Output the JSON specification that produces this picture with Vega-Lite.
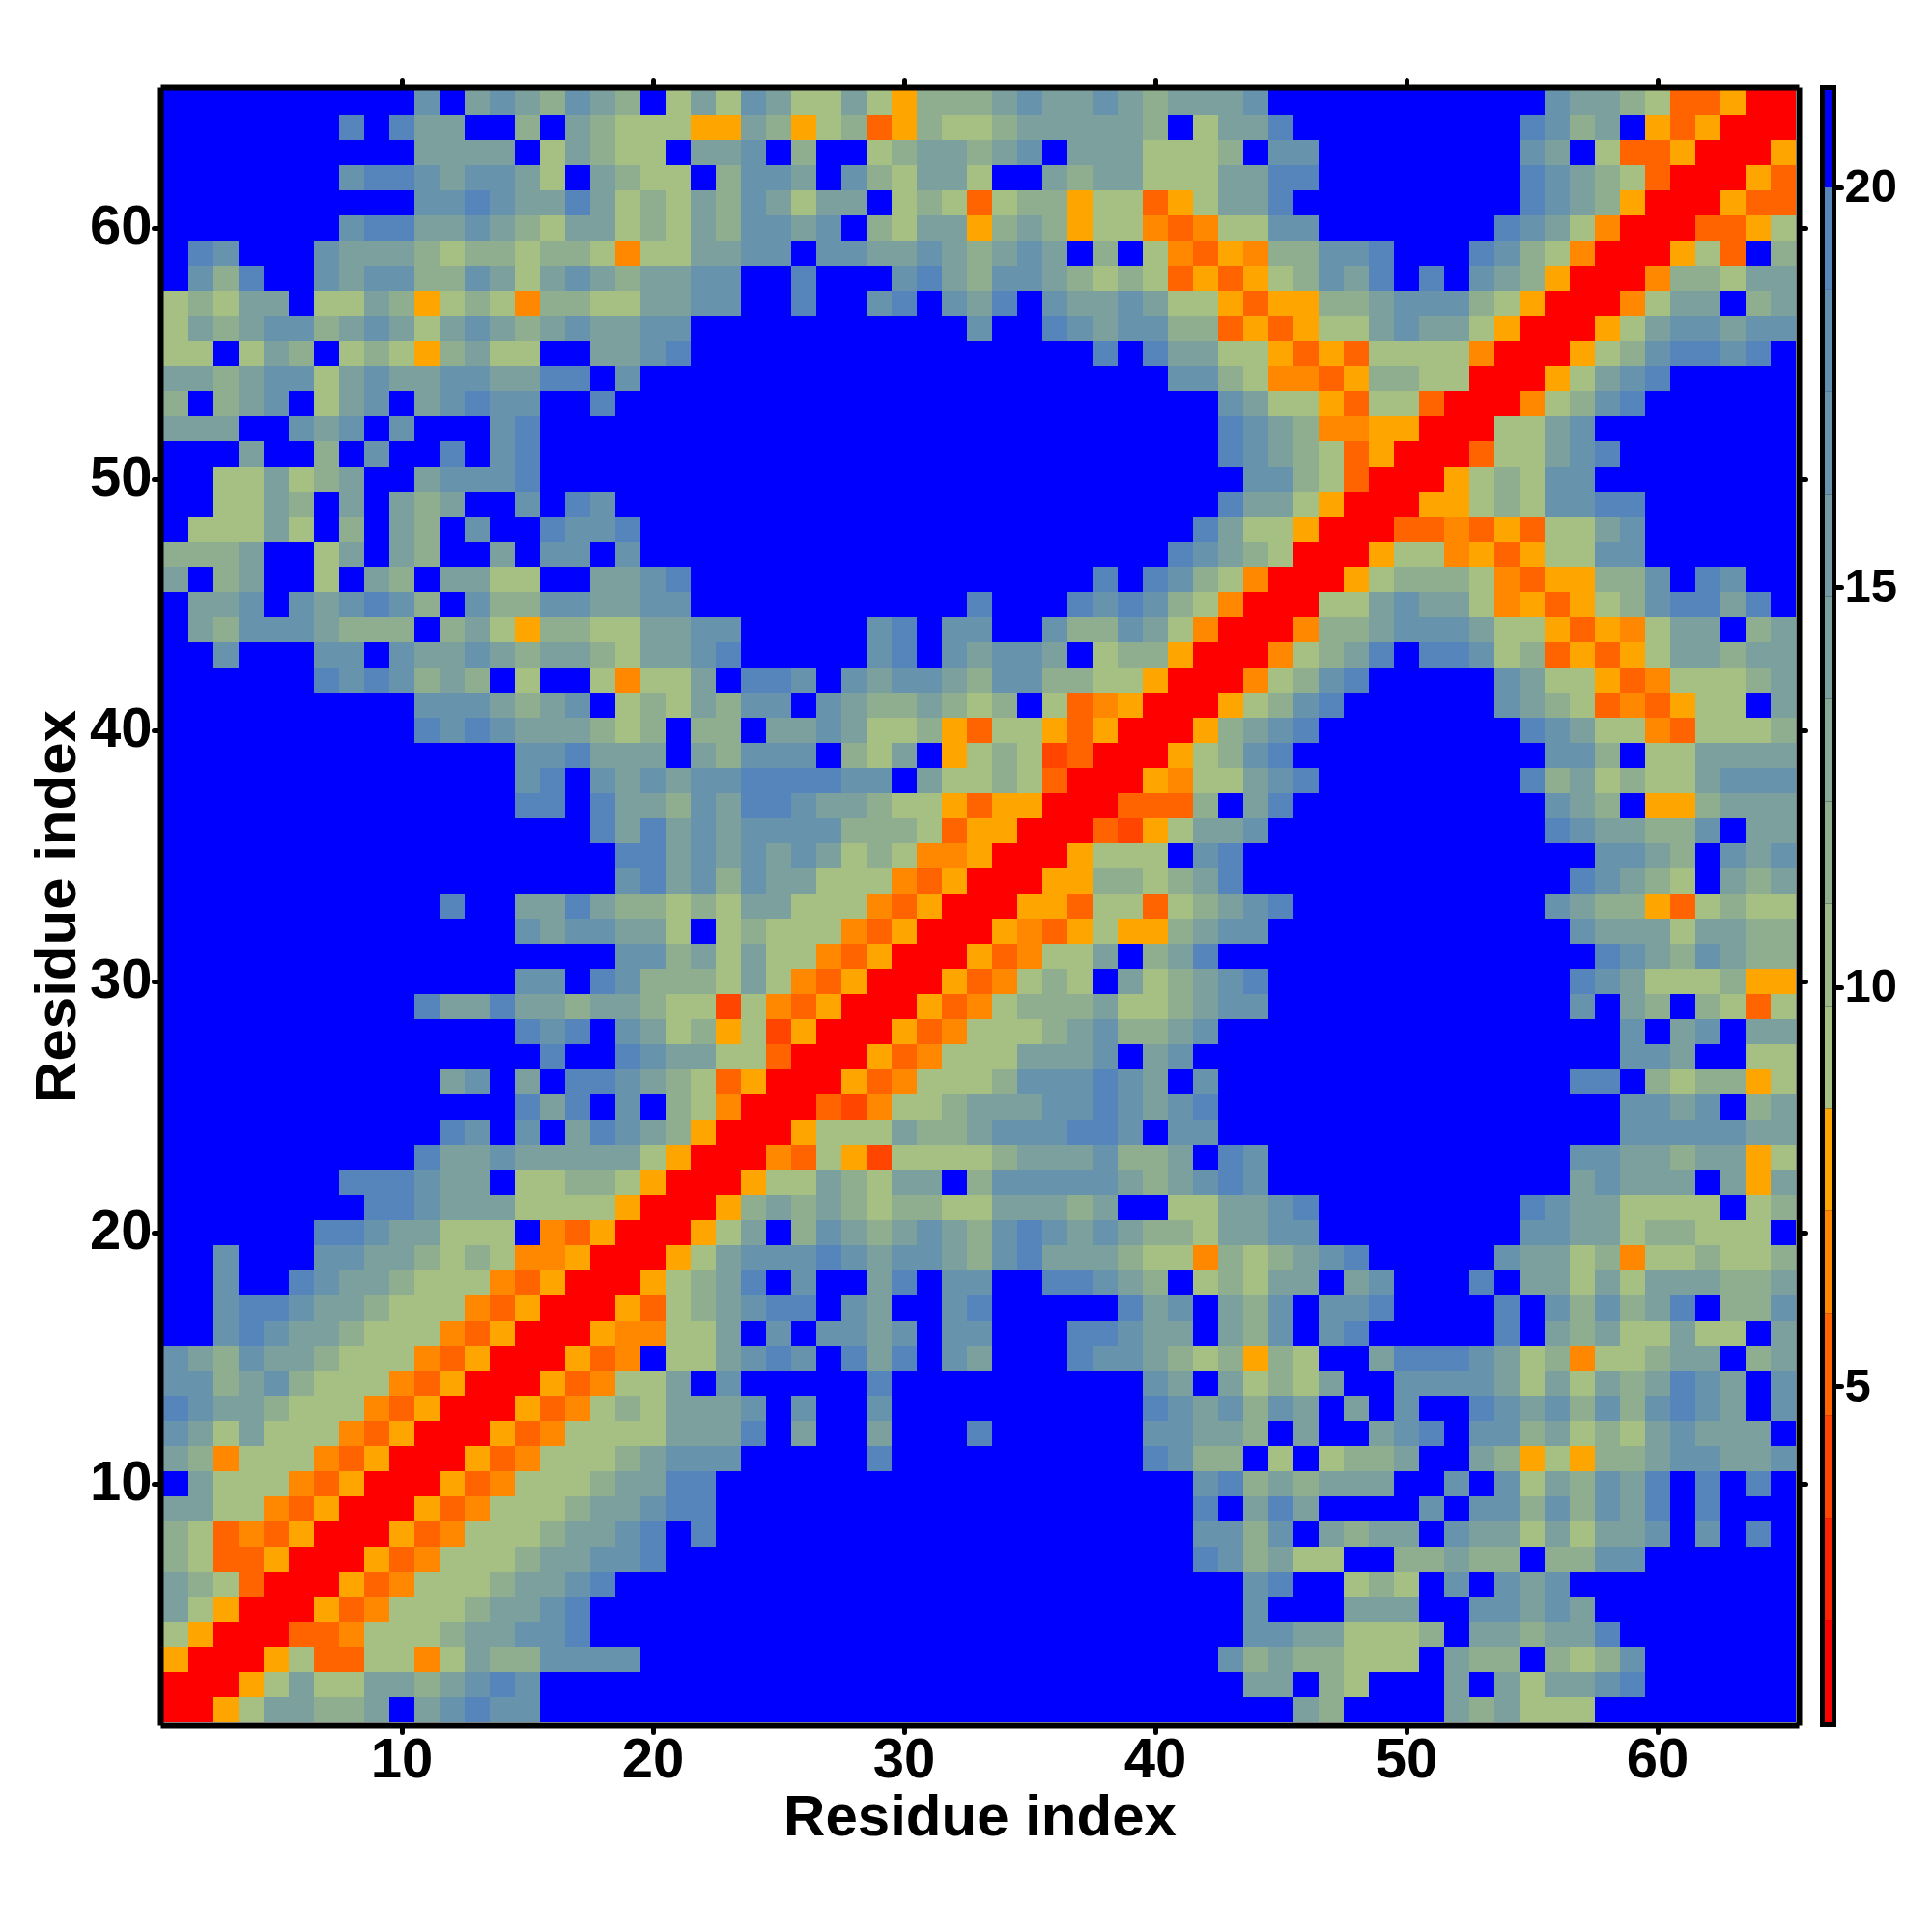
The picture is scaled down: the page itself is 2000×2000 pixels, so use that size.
{"$schema":"https://vega.github.io/schema/vega-lite/v6.json","background":"white","padding":{"left":29,"top":80,"right":10,"bottom":10},"bounds":"flush","spacing":30,"config":{"view":{"stroke":null},"font":"Liberation Sans","axis":{"grid":false,"domainColor":"#000000","domainWidth":6,"domainCap":"square","tickColor":"#000000","tickCap":"round","tickWidth":5,"labelFont":"Liberation Sans","labelFontWeight":"bold","labelColor":"#000000","titleFont":"Liberation Sans","titleFontWeight":"bold","titleColor":"#000000"}},"hconcat":[{"width":1690,"height":1690,"view":{"fill":"#0000ff","stroke":null},"layer":[{"data":{"values":[
{"x":11,"y":65,"d":17},{"x":13,"y":65,"d":14},{"x":14,"y":65,"d":17},{"x":15,"y":65,"d":14},{"x":16,"y":65,"d":12},{"x":17,"y":65,"d":17},{"x":18,"y":65,"d":14},{"x":19,"y":65,"d":12},{"x":21,"y":65,"d":9},{"x":22,"y":65,"d":14},{"x":23,"y":65,"d":9},{"x":24,"y":65,"d":17},{"x":25,"y":65,"d":14},{"x":26,"y":65,"d":9},{"x":27,"y":65,"d":9},{"x":28,"y":65,"d":14},{"x":29,"y":65,"d":9},{"x":30,"y":65,"d":8},{"x":31,"y":65,"d":12},{"x":32,"y":65,"d":12},{"x":33,"y":65,"d":12},{"x":34,"y":65,"d":14},{"x":35,"y":65,"d":17},{"x":36,"y":65,"d":14},{"x":37,"y":65,"d":14},{"x":38,"y":65,"d":17},{"x":39,"y":65,"d":14},{"x":40,"y":65,"d":12},{"x":41,"y":65,"d":14},{"x":42,"y":65,"d":14},{"x":43,"y":65,"d":14},{"x":44,"y":65,"d":17},{"x":56,"y":65,"d":17},{"x":57,"y":65,"d":14},{"x":58,"y":65,"d":14},{"x":59,"y":65,"d":12},{"x":60,"y":65,"d":9},{"x":61,"y":65,"d":5},{"x":62,"y":65,"d":5},{"x":63,"y":65,"d":8},{"x":64,"y":65,"d":1},{"x":65,"y":65,"d":1},
{"x":8,"y":64,"d":19},{"x":10,"y":64,"d":19},{"x":11,"y":64,"d":14},{"x":12,"y":64,"d":14},{"x":15,"y":64,"d":12},{"x":17,"y":64,"d":14},{"x":18,"y":64,"d":12},{"x":19,"y":64,"d":9},{"x":20,"y":64,"d":9},{"x":21,"y":64,"d":9},{"x":22,"y":64,"d":8},{"x":23,"y":64,"d":8},{"x":24,"y":64,"d":14},{"x":25,"y":64,"d":12},{"x":26,"y":64,"d":8},{"x":27,"y":64,"d":9},{"x":28,"y":64,"d":12},{"x":29,"y":64,"d":5},{"x":30,"y":64,"d":8},{"x":31,"y":64,"d":12},{"x":32,"y":64,"d":9},{"x":33,"y":64,"d":9},{"x":34,"y":64,"d":12},{"x":35,"y":64,"d":14},{"x":36,"y":64,"d":14},{"x":37,"y":64,"d":14},{"x":38,"y":64,"d":14},{"x":39,"y":64,"d":14},{"x":40,"y":64,"d":12},{"x":42,"y":64,"d":9},{"x":43,"y":64,"d":14},{"x":44,"y":64,"d":14},{"x":45,"y":64,"d":19},{"x":55,"y":64,"d":19},{"x":56,"y":64,"d":17},{"x":57,"y":64,"d":12},{"x":58,"y":64,"d":14},{"x":60,"y":64,"d":8},{"x":61,"y":64,"d":5},{"x":62,"y":64,"d":8},{"x":63,"y":64,"d":1},{"x":64,"y":64,"d":1},{"x":65,"y":64,"d":1},
{"x":11,"y":63,"d":14},{"x":12,"y":63,"d":14},{"x":13,"y":63,"d":14},{"x":14,"y":63,"d":14},{"x":16,"y":63,"d":9},{"x":17,"y":63,"d":14},{"x":18,"y":63,"d":12},{"x":19,"y":63,"d":9},{"x":20,"y":63,"d":9},{"x":22,"y":63,"d":14},{"x":23,"y":63,"d":14},{"x":24,"y":63,"d":17},{"x":26,"y":63,"d":12},{"x":29,"y":63,"d":9},{"x":30,"y":63,"d":12},{"x":31,"y":63,"d":14},{"x":32,"y":63,"d":14},{"x":33,"y":63,"d":12},{"x":34,"y":63,"d":14},{"x":35,"y":63,"d":17},{"x":37,"y":63,"d":14},{"x":38,"y":63,"d":14},{"x":39,"y":63,"d":14},{"x":40,"y":63,"d":9},{"x":41,"y":63,"d":9},{"x":42,"y":63,"d":9},{"x":43,"y":63,"d":12},{"x":45,"y":63,"d":17},{"x":46,"y":63,"d":17},{"x":55,"y":63,"d":17},{"x":56,"y":63,"d":14},{"x":58,"y":63,"d":9},{"x":59,"y":63,"d":5},{"x":60,"y":63,"d":5},{"x":61,"y":63,"d":8},{"x":62,"y":63,"d":1},{"x":63,"y":63,"d":1},{"x":64,"y":63,"d":1},{"x":65,"y":63,"d":8},
{"x":8,"y":62,"d":17},{"x":9,"y":62,"d":19},{"x":10,"y":62,"d":19},{"x":11,"y":62,"d":17},{"x":12,"y":62,"d":14},{"x":13,"y":62,"d":17},{"x":14,"y":62,"d":17},{"x":15,"y":62,"d":14},{"x":16,"y":62,"d":9},{"x":18,"y":62,"d":14},{"x":19,"y":62,"d":12},{"x":20,"y":62,"d":9},{"x":21,"y":62,"d":9},{"x":23,"y":62,"d":12},{"x":24,"y":62,"d":17},{"x":25,"y":62,"d":17},{"x":26,"y":62,"d":14},{"x":28,"y":62,"d":17},{"x":29,"y":62,"d":12},{"x":30,"y":62,"d":9},{"x":31,"y":62,"d":14},{"x":32,"y":62,"d":14},{"x":33,"y":62,"d":9},{"x":36,"y":62,"d":14},{"x":37,"y":62,"d":12},{"x":38,"y":62,"d":14},{"x":39,"y":62,"d":14},{"x":40,"y":62,"d":9},{"x":41,"y":62,"d":9},{"x":42,"y":62,"d":9},{"x":43,"y":62,"d":14},{"x":44,"y":62,"d":14},{"x":45,"y":62,"d":19},{"x":46,"y":62,"d":19},{"x":55,"y":62,"d":19},{"x":56,"y":62,"d":17},{"x":57,"y":62,"d":14},{"x":58,"y":62,"d":12},{"x":59,"y":62,"d":9},{"x":60,"y":62,"d":5},{"x":61,"y":62,"d":1},{"x":62,"y":62,"d":1},{"x":63,"y":62,"d":1},{"x":64,"y":62,"d":8},{"x":65,"y":62,"d":5},
{"x":11,"y":61,"d":17},{"x":12,"y":61,"d":17},{"x":13,"y":61,"d":19},{"x":14,"y":61,"d":17},{"x":15,"y":61,"d":14},{"x":16,"y":61,"d":14},{"x":17,"y":61,"d":19},{"x":18,"y":61,"d":14},{"x":19,"y":61,"d":9},{"x":20,"y":61,"d":12},{"x":21,"y":61,"d":9},{"x":22,"y":61,"d":14},{"x":23,"y":61,"d":12},{"x":24,"y":61,"d":17},{"x":25,"y":61,"d":14},{"x":26,"y":61,"d":9},{"x":27,"y":61,"d":14},{"x":28,"y":61,"d":14},{"x":30,"y":61,"d":9},{"x":31,"y":61,"d":12},{"x":32,"y":61,"d":9},{"x":33,"y":61,"d":5},{"x":34,"y":61,"d":9},{"x":35,"y":61,"d":12},{"x":36,"y":61,"d":12},{"x":37,"y":61,"d":8},{"x":38,"y":61,"d":9},{"x":39,"y":61,"d":9},{"x":40,"y":61,"d":5},{"x":41,"y":61,"d":8},{"x":42,"y":61,"d":9},{"x":43,"y":61,"d":14},{"x":44,"y":61,"d":14},{"x":45,"y":61,"d":19},{"x":55,"y":61,"d":19},{"x":56,"y":61,"d":17},{"x":57,"y":61,"d":14},{"x":58,"y":61,"d":12},{"x":59,"y":61,"d":8},{"x":60,"y":61,"d":1},{"x":61,"y":61,"d":1},{"x":62,"y":61,"d":1},{"x":63,"y":61,"d":8},{"x":64,"y":61,"d":5},{"x":65,"y":61,"d":5},
{"x":8,"y":60,"d":17},{"x":9,"y":60,"d":19},{"x":10,"y":60,"d":19},{"x":11,"y":60,"d":14},{"x":12,"y":60,"d":14},{"x":13,"y":60,"d":17},{"x":14,"y":60,"d":14},{"x":15,"y":60,"d":12},{"x":16,"y":60,"d":9},{"x":17,"y":60,"d":14},{"x":18,"y":60,"d":14},{"x":19,"y":60,"d":9},{"x":20,"y":60,"d":12},{"x":21,"y":60,"d":9},{"x":22,"y":60,"d":14},{"x":23,"y":60,"d":12},{"x":24,"y":60,"d":17},{"x":25,"y":60,"d":17},{"x":26,"y":60,"d":14},{"x":27,"y":60,"d":17},{"x":29,"y":60,"d":12},{"x":30,"y":60,"d":9},{"x":31,"y":60,"d":14},{"x":32,"y":60,"d":14},{"x":33,"y":60,"d":8},{"x":34,"y":60,"d":12},{"x":35,"y":60,"d":14},{"x":36,"y":60,"d":12},{"x":37,"y":60,"d":8},{"x":38,"y":60,"d":9},{"x":39,"y":60,"d":9},{"x":40,"y":60,"d":7},{"x":41,"y":60,"d":5},{"x":42,"y":60,"d":7},{"x":43,"y":60,"d":9},{"x":44,"y":60,"d":9},{"x":45,"y":60,"d":17},{"x":46,"y":60,"d":17},{"x":54,"y":60,"d":19},{"x":55,"y":60,"d":17},{"x":56,"y":60,"d":14},{"x":57,"y":60,"d":9},{"x":58,"y":60,"d":7},{"x":59,"y":60,"d":1},{"x":60,"y":60,"d":1},{"x":61,"y":60,"d":1},{"x":62,"y":60,"d":5},{"x":63,"y":60,"d":5},{"x":64,"y":60,"d":8},{"x":65,"y":60,"d":9},
{"x":2,"y":59,"d":19},{"x":3,"y":59,"d":17},{"x":7,"y":59,"d":17},{"x":8,"y":59,"d":14},{"x":9,"y":59,"d":14},{"x":10,"y":59,"d":14},{"x":11,"y":59,"d":12},{"x":12,"y":59,"d":9},{"x":13,"y":59,"d":12},{"x":14,"y":59,"d":12},{"x":15,"y":59,"d":9},{"x":16,"y":59,"d":12},{"x":17,"y":59,"d":12},{"x":18,"y":59,"d":9},{"x":19,"y":59,"d":7},{"x":20,"y":59,"d":9},{"x":21,"y":59,"d":9},{"x":22,"y":59,"d":14},{"x":23,"y":59,"d":14},{"x":24,"y":59,"d":17},{"x":25,"y":59,"d":17},{"x":27,"y":59,"d":17},{"x":28,"y":59,"d":17},{"x":29,"y":59,"d":14},{"x":30,"y":59,"d":14},{"x":31,"y":59,"d":17},{"x":32,"y":59,"d":14},{"x":33,"y":59,"d":12},{"x":34,"y":59,"d":14},{"x":35,"y":59,"d":17},{"x":36,"y":59,"d":14},{"x":38,"y":59,"d":12},{"x":40,"y":59,"d":9},{"x":41,"y":59,"d":7},{"x":42,"y":59,"d":5},{"x":43,"y":59,"d":8},{"x":44,"y":59,"d":7},{"x":45,"y":59,"d":12},{"x":46,"y":59,"d":12},{"x":47,"y":59,"d":17},{"x":48,"y":59,"d":17},{"x":49,"y":59,"d":19},{"x":53,"y":59,"d":19},{"x":54,"y":59,"d":17},{"x":55,"y":59,"d":12},{"x":56,"y":59,"d":9},{"x":57,"y":59,"d":7},{"x":58,"y":59,"d":1},{"x":59,"y":59,"d":1},{"x":60,"y":59,"d":1},{"x":61,"y":59,"d":8},{"x":62,"y":59,"d":9},{"x":63,"y":59,"d":5},{"x":65,"y":59,"d":12},
{"x":2,"y":58,"d":17},{"x":3,"y":58,"d":12},{"x":4,"y":58,"d":19},{"x":7,"y":58,"d":17},{"x":8,"y":58,"d":14},{"x":9,"y":58,"d":17},{"x":10,"y":58,"d":17},{"x":11,"y":58,"d":12},{"x":12,"y":58,"d":12},{"x":13,"y":58,"d":17},{"x":14,"y":58,"d":14},{"x":15,"y":58,"d":9},{"x":16,"y":58,"d":14},{"x":17,"y":58,"d":17},{"x":18,"y":58,"d":14},{"x":19,"y":58,"d":12},{"x":20,"y":58,"d":14},{"x":21,"y":58,"d":14},{"x":22,"y":58,"d":17},{"x":23,"y":58,"d":17},{"x":26,"y":58,"d":19},{"x":30,"y":58,"d":17},{"x":31,"y":58,"d":19},{"x":32,"y":58,"d":14},{"x":33,"y":58,"d":12},{"x":34,"y":58,"d":17},{"x":35,"y":58,"d":17},{"x":36,"y":58,"d":14},{"x":37,"y":58,"d":12},{"x":38,"y":58,"d":9},{"x":39,"y":58,"d":12},{"x":40,"y":58,"d":9},{"x":41,"y":58,"d":5},{"x":42,"y":58,"d":8},{"x":43,"y":58,"d":5},{"x":44,"y":58,"d":8},{"x":45,"y":58,"d":9},{"x":46,"y":58,"d":12},{"x":47,"y":58,"d":17},{"x":48,"y":58,"d":14},{"x":49,"y":58,"d":19},{"x":51,"y":58,"d":19},{"x":53,"y":58,"d":17},{"x":54,"y":58,"d":14},{"x":55,"y":58,"d":12},{"x":56,"y":58,"d":8},{"x":57,"y":58,"d":1},{"x":58,"y":58,"d":1},{"x":59,"y":58,"d":1},{"x":60,"y":58,"d":7},{"x":61,"y":58,"d":12},{"x":62,"y":58,"d":12},{"x":63,"y":58,"d":9},{"x":64,"y":58,"d":14},{"x":65,"y":58,"d":14},
{"x":1,"y":57,"d":9},{"x":2,"y":57,"d":12},{"x":3,"y":57,"d":9},{"x":4,"y":57,"d":14},{"x":5,"y":57,"d":14},{"x":7,"y":57,"d":9},{"x":8,"y":57,"d":9},{"x":9,"y":57,"d":14},{"x":10,"y":57,"d":12},{"x":11,"y":57,"d":8},{"x":12,"y":57,"d":9},{"x":13,"y":57,"d":12},{"x":14,"y":57,"d":9},{"x":15,"y":57,"d":7},{"x":16,"y":57,"d":12},{"x":17,"y":57,"d":12},{"x":18,"y":57,"d":9},{"x":19,"y":57,"d":9},{"x":20,"y":57,"d":14},{"x":21,"y":57,"d":14},{"x":22,"y":57,"d":17},{"x":23,"y":57,"d":17},{"x":26,"y":57,"d":19},{"x":29,"y":57,"d":17},{"x":30,"y":57,"d":19},{"x":32,"y":57,"d":17},{"x":33,"y":57,"d":14},{"x":34,"y":57,"d":19},{"x":36,"y":57,"d":17},{"x":37,"y":57,"d":14},{"x":38,"y":57,"d":14},{"x":39,"y":57,"d":17},{"x":40,"y":57,"d":14},{"x":41,"y":57,"d":9},{"x":42,"y":57,"d":9},{"x":43,"y":57,"d":8},{"x":44,"y":57,"d":5},{"x":45,"y":57,"d":8},{"x":46,"y":57,"d":8},{"x":47,"y":57,"d":12},{"x":48,"y":57,"d":12},{"x":49,"y":57,"d":14},{"x":50,"y":57,"d":17},{"x":51,"y":57,"d":17},{"x":52,"y":57,"d":17},{"x":53,"y":57,"d":12},{"x":54,"y":57,"d":9},{"x":55,"y":57,"d":8},{"x":56,"y":57,"d":1},{"x":57,"y":57,"d":1},{"x":58,"y":57,"d":1},{"x":59,"y":57,"d":7},{"x":60,"y":57,"d":9},{"x":61,"y":57,"d":14},{"x":62,"y":57,"d":14},{"x":64,"y":57,"d":12},{"x":65,"y":57,"d":14},
{"x":1,"y":56,"d":9},{"x":2,"y":56,"d":14},{"x":3,"y":56,"d":12},{"x":4,"y":56,"d":14},{"x":5,"y":56,"d":17},{"x":6,"y":56,"d":17},{"x":7,"y":56,"d":12},{"x":8,"y":56,"d":14},{"x":9,"y":56,"d":17},{"x":10,"y":56,"d":14},{"x":11,"y":56,"d":9},{"x":12,"y":56,"d":14},{"x":13,"y":56,"d":17},{"x":14,"y":56,"d":14},{"x":15,"y":56,"d":12},{"x":16,"y":56,"d":14},{"x":17,"y":56,"d":17},{"x":18,"y":56,"d":14},{"x":19,"y":56,"d":14},{"x":20,"y":56,"d":17},{"x":21,"y":56,"d":17},{"x":33,"y":56,"d":17},{"x":36,"y":56,"d":19},{"x":37,"y":56,"d":17},{"x":38,"y":56,"d":14},{"x":39,"y":56,"d":17},{"x":40,"y":56,"d":17},{"x":41,"y":56,"d":12},{"x":42,"y":56,"d":12},{"x":43,"y":56,"d":5},{"x":44,"y":56,"d":8},{"x":45,"y":56,"d":5},{"x":46,"y":56,"d":8},{"x":47,"y":56,"d":9},{"x":48,"y":56,"d":9},{"x":49,"y":56,"d":14},{"x":50,"y":56,"d":17},{"x":51,"y":56,"d":14},{"x":52,"y":56,"d":14},{"x":53,"y":56,"d":9},{"x":54,"y":56,"d":8},{"x":55,"y":56,"d":1},{"x":56,"y":56,"d":1},{"x":57,"y":56,"d":1},{"x":58,"y":56,"d":8},{"x":59,"y":56,"d":9},{"x":60,"y":56,"d":14},{"x":61,"y":56,"d":17},{"x":62,"y":56,"d":17},{"x":63,"y":56,"d":14},{"x":64,"y":56,"d":17},{"x":65,"y":56,"d":17},
{"x":1,"y":55,"d":9},{"x":2,"y":55,"d":9},{"x":4,"y":55,"d":9},{"x":5,"y":55,"d":14},{"x":6,"y":55,"d":12},{"x":8,"y":55,"d":9},{"x":9,"y":55,"d":12},{"x":10,"y":55,"d":9},{"x":11,"y":55,"d":8},{"x":12,"y":55,"d":12},{"x":13,"y":55,"d":14},{"x":14,"y":55,"d":9},{"x":15,"y":55,"d":9},{"x":18,"y":55,"d":14},{"x":19,"y":55,"d":14},{"x":20,"y":55,"d":17},{"x":21,"y":55,"d":19},{"x":38,"y":55,"d":19},{"x":40,"y":55,"d":19},{"x":41,"y":55,"d":14},{"x":42,"y":55,"d":14},{"x":43,"y":55,"d":9},{"x":44,"y":55,"d":9},{"x":45,"y":55,"d":8},{"x":46,"y":55,"d":5},{"x":47,"y":55,"d":8},{"x":48,"y":55,"d":5},{"x":49,"y":55,"d":9},{"x":50,"y":55,"d":9},{"x":51,"y":55,"d":9},{"x":52,"y":55,"d":9},{"x":53,"y":55,"d":7},{"x":54,"y":55,"d":1},{"x":55,"y":55,"d":1},{"x":56,"y":55,"d":1},{"x":57,"y":55,"d":8},{"x":58,"y":55,"d":9},{"x":59,"y":55,"d":12},{"x":60,"y":55,"d":17},{"x":61,"y":55,"d":19},{"x":62,"y":55,"d":19},{"x":63,"y":55,"d":17},{"x":64,"y":55,"d":19},
{"x":1,"y":54,"d":14},{"x":2,"y":54,"d":14},{"x":3,"y":54,"d":12},{"x":4,"y":54,"d":14},{"x":5,"y":54,"d":17},{"x":6,"y":54,"d":17},{"x":7,"y":54,"d":9},{"x":8,"y":54,"d":14},{"x":9,"y":54,"d":17},{"x":10,"y":54,"d":14},{"x":11,"y":54,"d":14},{"x":12,"y":54,"d":17},{"x":13,"y":54,"d":17},{"x":14,"y":54,"d":14},{"x":15,"y":54,"d":14},{"x":16,"y":54,"d":19},{"x":17,"y":54,"d":19},{"x":19,"y":54,"d":17},{"x":41,"y":54,"d":17},{"x":42,"y":54,"d":17},{"x":43,"y":54,"d":12},{"x":44,"y":54,"d":9},{"x":45,"y":54,"d":7},{"x":46,"y":54,"d":7},{"x":47,"y":54,"d":5},{"x":48,"y":54,"d":8},{"x":49,"y":54,"d":12},{"x":50,"y":54,"d":12},{"x":51,"y":54,"d":9},{"x":52,"y":54,"d":9},{"x":53,"y":54,"d":1},{"x":54,"y":54,"d":1},{"x":55,"y":54,"d":1},{"x":56,"y":54,"d":8},{"x":57,"y":54,"d":9},{"x":58,"y":54,"d":14},{"x":59,"y":54,"d":17},{"x":60,"y":54,"d":19},
{"x":1,"y":53,"d":12},{"x":3,"y":53,"d":12},{"x":4,"y":53,"d":14},{"x":5,"y":53,"d":17},{"x":7,"y":53,"d":9},{"x":8,"y":53,"d":14},{"x":9,"y":53,"d":17},{"x":11,"y":53,"d":14},{"x":12,"y":53,"d":17},{"x":13,"y":53,"d":19},{"x":14,"y":53,"d":17},{"x":15,"y":53,"d":17},{"x":18,"y":53,"d":19},{"x":43,"y":53,"d":17},{"x":44,"y":53,"d":14},{"x":45,"y":53,"d":9},{"x":46,"y":53,"d":9},{"x":47,"y":53,"d":8},{"x":48,"y":53,"d":5},{"x":49,"y":53,"d":9},{"x":50,"y":53,"d":9},{"x":51,"y":53,"d":5},{"x":52,"y":53,"d":1},{"x":53,"y":53,"d":1},{"x":54,"y":53,"d":1},{"x":55,"y":53,"d":7},{"x":56,"y":53,"d":9},{"x":57,"y":53,"d":12},{"x":58,"y":53,"d":17},{"x":59,"y":53,"d":19},
{"x":1,"y":52,"d":14},{"x":2,"y":52,"d":14},{"x":3,"y":52,"d":14},{"x":6,"y":52,"d":17},{"x":7,"y":52,"d":14},{"x":8,"y":52,"d":17},{"x":10,"y":52,"d":17},{"x":14,"y":52,"d":17},{"x":15,"y":52,"d":19},{"x":43,"y":52,"d":19},{"x":44,"y":52,"d":17},{"x":45,"y":52,"d":14},{"x":46,"y":52,"d":12},{"x":47,"y":52,"d":7},{"x":48,"y":52,"d":7},{"x":49,"y":52,"d":8},{"x":50,"y":52,"d":8},{"x":51,"y":52,"d":1},{"x":52,"y":52,"d":1},{"x":53,"y":52,"d":1},{"x":54,"y":52,"d":9},{"x":55,"y":52,"d":9},{"x":56,"y":52,"d":14},{"x":57,"y":52,"d":17},
{"x":4,"y":51,"d":14},{"x":7,"y":51,"d":12},{"x":9,"y":51,"d":17},{"x":12,"y":51,"d":19},{"x":14,"y":51,"d":17},{"x":15,"y":51,"d":19},{"x":43,"y":51,"d":19},{"x":44,"y":51,"d":17},{"x":45,"y":51,"d":14},{"x":46,"y":51,"d":12},{"x":47,"y":51,"d":9},{"x":48,"y":51,"d":5},{"x":49,"y":51,"d":8},{"x":50,"y":51,"d":1},{"x":51,"y":51,"d":1},{"x":52,"y":51,"d":1},{"x":53,"y":51,"d":5},{"x":54,"y":51,"d":9},{"x":55,"y":51,"d":9},{"x":56,"y":51,"d":14},{"x":57,"y":51,"d":17},{"x":58,"y":51,"d":19},
{"x":3,"y":50,"d":9},{"x":4,"y":50,"d":9},{"x":5,"y":50,"d":14},{"x":6,"y":50,"d":9},{"x":7,"y":50,"d":12},{"x":8,"y":50,"d":14},{"x":11,"y":50,"d":14},{"x":12,"y":50,"d":17},{"x":13,"y":50,"d":17},{"x":14,"y":50,"d":17},{"x":15,"y":50,"d":19},{"x":44,"y":50,"d":17},{"x":45,"y":50,"d":17},{"x":46,"y":50,"d":12},{"x":47,"y":50,"d":9},{"x":48,"y":50,"d":5},{"x":49,"y":50,"d":1},{"x":50,"y":50,"d":1},{"x":51,"y":50,"d":1},{"x":52,"y":50,"d":8},{"x":53,"y":50,"d":9},{"x":54,"y":50,"d":12},{"x":55,"y":50,"d":9},{"x":56,"y":50,"d":17},{"x":57,"y":50,"d":17},
{"x":3,"y":49,"d":9},{"x":4,"y":49,"d":9},{"x":5,"y":49,"d":14},{"x":6,"y":49,"d":12},{"x":8,"y":49,"d":14},{"x":10,"y":49,"d":14},{"x":11,"y":49,"d":12},{"x":12,"y":49,"d":14},{"x":15,"y":49,"d":17},{"x":17,"y":49,"d":19},{"x":18,"y":49,"d":17},{"x":43,"y":49,"d":19},{"x":44,"y":49,"d":14},{"x":45,"y":49,"d":14},{"x":46,"y":49,"d":9},{"x":47,"y":49,"d":8},{"x":48,"y":49,"d":1},{"x":49,"y":49,"d":1},{"x":50,"y":49,"d":1},{"x":51,"y":49,"d":8},{"x":52,"y":49,"d":8},{"x":53,"y":49,"d":9},{"x":54,"y":49,"d":12},{"x":55,"y":49,"d":9},{"x":56,"y":49,"d":17},{"x":57,"y":49,"d":17},{"x":58,"y":49,"d":19},{"x":59,"y":49,"d":19},
{"x":2,"y":48,"d":9},{"x":3,"y":48,"d":9},{"x":4,"y":48,"d":9},{"x":5,"y":48,"d":14},{"x":6,"y":48,"d":9},{"x":8,"y":48,"d":12},{"x":10,"y":48,"d":14},{"x":11,"y":48,"d":12},{"x":13,"y":48,"d":17},{"x":16,"y":48,"d":19},{"x":17,"y":48,"d":17},{"x":18,"y":48,"d":17},{"x":19,"y":48,"d":19},{"x":42,"y":48,"d":19},{"x":43,"y":48,"d":14},{"x":44,"y":48,"d":9},{"x":45,"y":48,"d":9},{"x":46,"y":48,"d":8},{"x":47,"y":48,"d":1},{"x":48,"y":48,"d":1},{"x":49,"y":48,"d":1},{"x":50,"y":48,"d":5},{"x":51,"y":48,"d":5},{"x":52,"y":48,"d":7},{"x":53,"y":48,"d":5},{"x":54,"y":48,"d":8},{"x":55,"y":48,"d":5},{"x":56,"y":48,"d":9},{"x":57,"y":48,"d":9},{"x":58,"y":48,"d":14},{"x":59,"y":48,"d":17},
{"x":1,"y":47,"d":12},{"x":2,"y":47,"d":12},{"x":3,"y":47,"d":12},{"x":4,"y":47,"d":14},{"x":7,"y":47,"d":9},{"x":8,"y":47,"d":14},{"x":10,"y":47,"d":14},{"x":11,"y":47,"d":12},{"x":14,"y":47,"d":14},{"x":16,"y":47,"d":17},{"x":17,"y":47,"d":17},{"x":19,"y":47,"d":17},{"x":41,"y":47,"d":19},{"x":42,"y":47,"d":17},{"x":43,"y":47,"d":14},{"x":44,"y":47,"d":12},{"x":45,"y":47,"d":9},{"x":46,"y":47,"d":1},{"x":47,"y":47,"d":1},{"x":48,"y":47,"d":1},{"x":49,"y":47,"d":8},{"x":50,"y":47,"d":9},{"x":51,"y":47,"d":9},{"x":52,"y":47,"d":7},{"x":53,"y":47,"d":8},{"x":54,"y":47,"d":5},{"x":55,"y":47,"d":8},{"x":56,"y":47,"d":9},{"x":57,"y":47,"d":9},{"x":58,"y":47,"d":17},{"x":59,"y":47,"d":17},
{"x":1,"y":46,"d":14},{"x":3,"y":46,"d":12},{"x":4,"y":46,"d":14},{"x":7,"y":46,"d":9},{"x":9,"y":46,"d":14},{"x":10,"y":46,"d":12},{"x":12,"y":46,"d":14},{"x":13,"y":46,"d":14},{"x":14,"y":46,"d":9},{"x":15,"y":46,"d":9},{"x":18,"y":46,"d":14},{"x":19,"y":46,"d":14},{"x":20,"y":46,"d":17},{"x":21,"y":46,"d":19},{"x":38,"y":46,"d":19},{"x":40,"y":46,"d":19},{"x":41,"y":46,"d":17},{"x":42,"y":46,"d":12},{"x":43,"y":46,"d":9},{"x":44,"y":46,"d":7},{"x":45,"y":46,"d":1},{"x":46,"y":46,"d":1},{"x":47,"y":46,"d":1},{"x":48,"y":46,"d":8},{"x":49,"y":46,"d":9},{"x":50,"y":46,"d":12},{"x":51,"y":46,"d":12},{"x":52,"y":46,"d":12},{"x":53,"y":46,"d":9},{"x":54,"y":46,"d":7},{"x":55,"y":46,"d":5},{"x":56,"y":46,"d":8},{"x":57,"y":46,"d":8},{"x":58,"y":46,"d":12},{"x":59,"y":46,"d":12},{"x":60,"y":46,"d":17},{"x":62,"y":46,"d":19},{"x":63,"y":46,"d":17},
{"x":2,"y":45,"d":14},{"x":3,"y":45,"d":14},{"x":4,"y":45,"d":17},{"x":6,"y":45,"d":17},{"x":7,"y":45,"d":14},{"x":8,"y":45,"d":17},{"x":9,"y":45,"d":19},{"x":10,"y":45,"d":17},{"x":11,"y":45,"d":12},{"x":13,"y":45,"d":17},{"x":14,"y":45,"d":12},{"x":15,"y":45,"d":12},{"x":16,"y":45,"d":17},{"x":17,"y":45,"d":17},{"x":18,"y":45,"d":14},{"x":19,"y":45,"d":14},{"x":20,"y":45,"d":17},{"x":21,"y":45,"d":17},{"x":33,"y":45,"d":19},{"x":37,"y":45,"d":19},{"x":38,"y":45,"d":17},{"x":39,"y":45,"d":19},{"x":40,"y":45,"d":17},{"x":41,"y":45,"d":12},{"x":42,"y":45,"d":9},{"x":43,"y":45,"d":7},{"x":44,"y":45,"d":1},{"x":45,"y":45,"d":1},{"x":46,"y":45,"d":1},{"x":47,"y":45,"d":9},{"x":48,"y":45,"d":9},{"x":49,"y":45,"d":14},{"x":50,"y":45,"d":17},{"x":51,"y":45,"d":14},{"x":52,"y":45,"d":14},{"x":53,"y":45,"d":9},{"x":54,"y":45,"d":7},{"x":55,"y":45,"d":8},{"x":56,"y":45,"d":5},{"x":57,"y":45,"d":8},{"x":58,"y":45,"d":9},{"x":59,"y":45,"d":12},{"x":60,"y":45,"d":17},{"x":61,"y":45,"d":19},{"x":62,"y":45,"d":19},{"x":63,"y":45,"d":14},{"x":64,"y":45,"d":19},
{"x":2,"y":44,"d":14},{"x":3,"y":44,"d":12},{"x":4,"y":44,"d":17},{"x":5,"y":44,"d":17},{"x":6,"y":44,"d":17},{"x":7,"y":44,"d":14},{"x":8,"y":44,"d":12},{"x":9,"y":44,"d":12},{"x":10,"y":44,"d":12},{"x":12,"y":44,"d":12},{"x":13,"y":44,"d":14},{"x":14,"y":44,"d":9},{"x":15,"y":44,"d":8},{"x":16,"y":44,"d":12},{"x":17,"y":44,"d":12},{"x":18,"y":44,"d":9},{"x":19,"y":44,"d":9},{"x":20,"y":44,"d":14},{"x":21,"y":44,"d":14},{"x":22,"y":44,"d":17},{"x":23,"y":44,"d":17},{"x":29,"y":44,"d":17},{"x":30,"y":44,"d":19},{"x":32,"y":44,"d":17},{"x":33,"y":44,"d":17},{"x":36,"y":44,"d":17},{"x":37,"y":44,"d":12},{"x":38,"y":44,"d":12},{"x":39,"y":44,"d":17},{"x":40,"y":44,"d":14},{"x":41,"y":44,"d":9},{"x":42,"y":44,"d":7},{"x":43,"y":44,"d":1},{"x":44,"y":44,"d":1},{"x":45,"y":44,"d":1},{"x":46,"y":44,"d":7},{"x":47,"y":44,"d":12},{"x":48,"y":44,"d":12},{"x":49,"y":44,"d":14},{"x":50,"y":44,"d":17},{"x":51,"y":44,"d":17},{"x":52,"y":44,"d":17},{"x":53,"y":44,"d":14},{"x":54,"y":44,"d":9},{"x":55,"y":44,"d":9},{"x":56,"y":44,"d":8},{"x":57,"y":44,"d":5},{"x":58,"y":44,"d":8},{"x":59,"y":44,"d":7},{"x":60,"y":44,"d":9},{"x":61,"y":44,"d":14},{"x":62,"y":44,"d":14},{"x":64,"y":44,"d":12},{"x":65,"y":44,"d":14},
{"x":3,"y":43,"d":17},{"x":7,"y":43,"d":17},{"x":8,"y":43,"d":17},{"x":10,"y":43,"d":17},{"x":11,"y":43,"d":14},{"x":12,"y":43,"d":14},{"x":13,"y":43,"d":17},{"x":14,"y":43,"d":14},{"x":15,"y":43,"d":12},{"x":16,"y":43,"d":14},{"x":17,"y":43,"d":14},{"x":18,"y":43,"d":12},{"x":19,"y":43,"d":9},{"x":20,"y":43,"d":14},{"x":21,"y":43,"d":14},{"x":22,"y":43,"d":17},{"x":23,"y":43,"d":19},{"x":29,"y":43,"d":17},{"x":30,"y":43,"d":19},{"x":32,"y":43,"d":17},{"x":33,"y":43,"d":14},{"x":34,"y":43,"d":17},{"x":35,"y":43,"d":17},{"x":36,"y":43,"d":14},{"x":38,"y":43,"d":9},{"x":39,"y":43,"d":12},{"x":40,"y":43,"d":12},{"x":41,"y":43,"d":8},{"x":42,"y":43,"d":1},{"x":43,"y":43,"d":1},{"x":44,"y":43,"d":1},{"x":45,"y":43,"d":7},{"x":46,"y":43,"d":9},{"x":47,"y":43,"d":12},{"x":48,"y":43,"d":14},{"x":49,"y":43,"d":19},{"x":51,"y":43,"d":19},{"x":52,"y":43,"d":19},{"x":53,"y":43,"d":17},{"x":54,"y":43,"d":9},{"x":55,"y":43,"d":12},{"x":56,"y":43,"d":5},{"x":57,"y":43,"d":8},{"x":58,"y":43,"d":5},{"x":59,"y":43,"d":8},{"x":60,"y":43,"d":9},{"x":61,"y":43,"d":14},{"x":62,"y":43,"d":14},{"x":63,"y":43,"d":12},{"x":64,"y":43,"d":14},{"x":65,"y":43,"d":14},
{"x":7,"y":42,"d":19},{"x":8,"y":42,"d":17},{"x":9,"y":42,"d":19},{"x":10,"y":42,"d":17},{"x":11,"y":42,"d":12},{"x":12,"y":42,"d":14},{"x":13,"y":42,"d":12},{"x":15,"y":42,"d":9},{"x":18,"y":42,"d":9},{"x":19,"y":42,"d":7},{"x":20,"y":42,"d":9},{"x":21,"y":42,"d":9},{"x":22,"y":42,"d":14},{"x":24,"y":42,"d":19},{"x":25,"y":42,"d":19},{"x":26,"y":42,"d":17},{"x":28,"y":42,"d":17},{"x":29,"y":42,"d":14},{"x":30,"y":42,"d":17},{"x":31,"y":42,"d":17},{"x":32,"y":42,"d":14},{"x":33,"y":42,"d":12},{"x":34,"y":42,"d":17},{"x":35,"y":42,"d":17},{"x":36,"y":42,"d":12},{"x":37,"y":42,"d":12},{"x":38,"y":42,"d":9},{"x":39,"y":42,"d":9},{"x":40,"y":42,"d":8},{"x":41,"y":42,"d":1},{"x":42,"y":42,"d":1},{"x":43,"y":42,"d":1},{"x":44,"y":42,"d":7},{"x":45,"y":42,"d":9},{"x":46,"y":42,"d":12},{"x":47,"y":42,"d":17},{"x":48,"y":42,"d":19},{"x":54,"y":42,"d":17},{"x":55,"y":42,"d":14},{"x":56,"y":42,"d":9},{"x":57,"y":42,"d":9},{"x":58,"y":42,"d":8},{"x":59,"y":42,"d":5},{"x":60,"y":42,"d":7},{"x":61,"y":42,"d":9},{"x":62,"y":42,"d":9},{"x":63,"y":42,"d":9},{"x":64,"y":42,"d":12},{"x":65,"y":42,"d":14},
{"x":11,"y":41,"d":17},{"x":12,"y":41,"d":17},{"x":13,"y":41,"d":17},{"x":14,"y":41,"d":14},{"x":15,"y":41,"d":12},{"x":16,"y":41,"d":14},{"x":17,"y":41,"d":17},{"x":19,"y":41,"d":9},{"x":20,"y":41,"d":12},{"x":21,"y":41,"d":9},{"x":22,"y":41,"d":14},{"x":23,"y":41,"d":12},{"x":24,"y":41,"d":17},{"x":25,"y":41,"d":17},{"x":27,"y":41,"d":17},{"x":28,"y":41,"d":14},{"x":29,"y":41,"d":12},{"x":30,"y":41,"d":12},{"x":31,"y":41,"d":14},{"x":32,"y":41,"d":12},{"x":33,"y":41,"d":9},{"x":34,"y":41,"d":12},{"x":36,"y":41,"d":9},{"x":37,"y":41,"d":5},{"x":38,"y":41,"d":7},{"x":39,"y":41,"d":8},{"x":40,"y":41,"d":1},{"x":41,"y":41,"d":1},{"x":42,"y":41,"d":1},{"x":43,"y":41,"d":8},{"x":44,"y":41,"d":9},{"x":45,"y":41,"d":12},{"x":46,"y":41,"d":17},{"x":47,"y":41,"d":19},{"x":54,"y":41,"d":17},{"x":55,"y":41,"d":14},{"x":56,"y":41,"d":12},{"x":57,"y":41,"d":9},{"x":58,"y":41,"d":5},{"x":59,"y":41,"d":7},{"x":60,"y":41,"d":5},{"x":61,"y":41,"d":8},{"x":62,"y":41,"d":9},{"x":63,"y":41,"d":9},{"x":65,"y":41,"d":14},
{"x":11,"y":40,"d":19},{"x":12,"y":40,"d":17},{"x":13,"y":40,"d":19},{"x":14,"y":40,"d":17},{"x":15,"y":40,"d":14},{"x":16,"y":40,"d":14},{"x":17,"y":40,"d":14},{"x":18,"y":40,"d":12},{"x":19,"y":40,"d":9},{"x":20,"y":40,"d":12},{"x":22,"y":40,"d":12},{"x":23,"y":40,"d":12},{"x":25,"y":40,"d":14},{"x":26,"y":40,"d":14},{"x":27,"y":40,"d":17},{"x":28,"y":40,"d":14},{"x":29,"y":40,"d":9},{"x":30,"y":40,"d":9},{"x":31,"y":40,"d":12},{"x":32,"y":40,"d":8},{"x":33,"y":40,"d":5},{"x":34,"y":40,"d":9},{"x":35,"y":40,"d":9},{"x":36,"y":40,"d":8},{"x":37,"y":40,"d":5},{"x":38,"y":40,"d":8},{"x":39,"y":40,"d":1},{"x":40,"y":40,"d":1},{"x":41,"y":40,"d":1},{"x":42,"y":40,"d":8},{"x":43,"y":40,"d":12},{"x":44,"y":40,"d":14},{"x":45,"y":40,"d":17},{"x":46,"y":40,"d":19},{"x":55,"y":40,"d":19},{"x":56,"y":40,"d":17},{"x":57,"y":40,"d":14},{"x":58,"y":40,"d":9},{"x":59,"y":40,"d":9},{"x":60,"y":40,"d":7},{"x":61,"y":40,"d":5},{"x":62,"y":40,"d":9},{"x":63,"y":40,"d":9},{"x":64,"y":40,"d":9},{"x":65,"y":40,"d":12},
{"x":15,"y":39,"d":17},{"x":16,"y":39,"d":17},{"x":17,"y":39,"d":19},{"x":18,"y":39,"d":14},{"x":19,"y":39,"d":14},{"x":20,"y":39,"d":14},{"x":22,"y":39,"d":14},{"x":23,"y":39,"d":12},{"x":24,"y":39,"d":17},{"x":25,"y":39,"d":17},{"x":26,"y":39,"d":17},{"x":28,"y":39,"d":12},{"x":29,"y":39,"d":9},{"x":30,"y":39,"d":14},{"x":32,"y":39,"d":8},{"x":33,"y":39,"d":9},{"x":34,"y":39,"d":12},{"x":35,"y":39,"d":9},{"x":36,"y":39,"d":4},{"x":37,"y":39,"d":5},{"x":38,"y":39,"d":1},{"x":39,"y":39,"d":1},{"x":40,"y":39,"d":1},{"x":41,"y":39,"d":8},{"x":42,"y":39,"d":9},{"x":43,"y":39,"d":12},{"x":44,"y":39,"d":17},{"x":45,"y":39,"d":19},{"x":56,"y":39,"d":17},{"x":57,"y":39,"d":17},{"x":58,"y":39,"d":12},{"x":60,"y":39,"d":9},{"x":61,"y":39,"d":9},{"x":62,"y":39,"d":14},{"x":63,"y":39,"d":14},{"x":64,"y":39,"d":14},{"x":65,"y":39,"d":14},
{"x":15,"y":38,"d":17},{"x":16,"y":38,"d":19},{"x":18,"y":38,"d":17},{"x":19,"y":38,"d":14},{"x":20,"y":38,"d":17},{"x":21,"y":38,"d":14},{"x":22,"y":38,"d":17},{"x":23,"y":38,"d":17},{"x":24,"y":38,"d":19},{"x":25,"y":38,"d":19},{"x":26,"y":38,"d":19},{"x":27,"y":38,"d":19},{"x":28,"y":38,"d":17},{"x":29,"y":38,"d":17},{"x":31,"y":38,"d":14},{"x":32,"y":38,"d":9},{"x":33,"y":38,"d":9},{"x":34,"y":38,"d":12},{"x":35,"y":38,"d":9},{"x":36,"y":38,"d":5},{"x":37,"y":38,"d":1},{"x":38,"y":38,"d":1},{"x":39,"y":38,"d":1},{"x":40,"y":38,"d":8},{"x":41,"y":38,"d":7},{"x":42,"y":38,"d":9},{"x":43,"y":38,"d":9},{"x":44,"y":38,"d":14},{"x":45,"y":38,"d":17},{"x":46,"y":38,"d":19},{"x":55,"y":38,"d":19},{"x":56,"y":38,"d":12},{"x":57,"y":38,"d":14},{"x":58,"y":38,"d":9},{"x":59,"y":38,"d":12},{"x":60,"y":38,"d":9},{"x":61,"y":38,"d":9},{"x":62,"y":38,"d":14},{"x":63,"y":38,"d":17},{"x":64,"y":38,"d":17},{"x":65,"y":38,"d":17},
{"x":15,"y":37,"d":19},{"x":16,"y":37,"d":19},{"x":18,"y":37,"d":19},{"x":19,"y":37,"d":14},{"x":20,"y":37,"d":14},{"x":21,"y":37,"d":12},{"x":22,"y":37,"d":17},{"x":23,"y":37,"d":14},{"x":24,"y":37,"d":19},{"x":25,"y":37,"d":19},{"x":26,"y":37,"d":17},{"x":27,"y":37,"d":14},{"x":28,"y":37,"d":14},{"x":29,"y":37,"d":12},{"x":30,"y":37,"d":9},{"x":31,"y":37,"d":9},{"x":32,"y":37,"d":8},{"x":33,"y":37,"d":5},{"x":34,"y":37,"d":8},{"x":35,"y":37,"d":8},{"x":36,"y":37,"d":1},{"x":37,"y":37,"d":1},{"x":38,"y":37,"d":1},{"x":39,"y":37,"d":5},{"x":40,"y":37,"d":5},{"x":41,"y":37,"d":5},{"x":42,"y":37,"d":12},{"x":44,"y":37,"d":14},{"x":45,"y":37,"d":19},{"x":56,"y":37,"d":17},{"x":57,"y":37,"d":14},{"x":58,"y":37,"d":12},{"x":60,"y":37,"d":8},{"x":61,"y":37,"d":8},{"x":62,"y":37,"d":12},{"x":63,"y":37,"d":14},{"x":64,"y":37,"d":14},{"x":65,"y":37,"d":14},
{"x":18,"y":36,"d":19},{"x":19,"y":36,"d":14},{"x":20,"y":36,"d":19},{"x":21,"y":36,"d":14},{"x":22,"y":36,"d":17},{"x":23,"y":36,"d":14},{"x":24,"y":36,"d":17},{"x":25,"y":36,"d":17},{"x":26,"y":36,"d":17},{"x":27,"y":36,"d":17},{"x":28,"y":36,"d":12},{"x":29,"y":36,"d":12},{"x":30,"y":36,"d":12},{"x":31,"y":36,"d":9},{"x":32,"y":36,"d":5},{"x":33,"y":36,"d":8},{"x":34,"y":36,"d":8},{"x":35,"y":36,"d":1},{"x":36,"y":36,"d":1},{"x":37,"y":36,"d":1},{"x":38,"y":36,"d":5},{"x":39,"y":36,"d":4},{"x":40,"y":36,"d":8},{"x":41,"y":36,"d":9},{"x":42,"y":36,"d":14},{"x":43,"y":36,"d":14},{"x":44,"y":36,"d":17},{"x":56,"y":36,"d":19},{"x":57,"y":36,"d":17},{"x":58,"y":36,"d":14},{"x":59,"y":36,"d":14},{"x":60,"y":36,"d":12},{"x":61,"y":36,"d":12},{"x":62,"y":36,"d":17},{"x":64,"y":36,"d":14},{"x":65,"y":36,"d":14},
{"x":19,"y":35,"d":19},{"x":20,"y":35,"d":19},{"x":21,"y":35,"d":14},{"x":22,"y":35,"d":17},{"x":23,"y":35,"d":14},{"x":24,"y":35,"d":17},{"x":25,"y":35,"d":14},{"x":26,"y":35,"d":17},{"x":27,"y":35,"d":14},{"x":28,"y":35,"d":9},{"x":29,"y":35,"d":12},{"x":30,"y":35,"d":9},{"x":31,"y":35,"d":7},{"x":32,"y":35,"d":7},{"x":33,"y":35,"d":8},{"x":34,"y":35,"d":1},{"x":35,"y":35,"d":1},{"x":36,"y":35,"d":1},{"x":37,"y":35,"d":8},{"x":38,"y":35,"d":9},{"x":39,"y":35,"d":9},{"x":40,"y":35,"d":9},{"x":42,"y":35,"d":17},{"x":43,"y":35,"d":19},{"x":58,"y":35,"d":17},{"x":59,"y":35,"d":17},{"x":60,"y":35,"d":14},{"x":61,"y":35,"d":12},{"x":63,"y":35,"d":17},{"x":64,"y":35,"d":14},{"x":65,"y":35,"d":17},
{"x":19,"y":34,"d":17},{"x":20,"y":34,"d":19},{"x":21,"y":34,"d":14},{"x":22,"y":34,"d":17},{"x":23,"y":34,"d":12},{"x":24,"y":34,"d":17},{"x":25,"y":34,"d":14},{"x":26,"y":34,"d":14},{"x":27,"y":34,"d":9},{"x":28,"y":34,"d":9},{"x":29,"y":34,"d":9},{"x":30,"y":34,"d":7},{"x":31,"y":34,"d":5},{"x":32,"y":34,"d":8},{"x":33,"y":34,"d":1},{"x":34,"y":34,"d":1},{"x":35,"y":34,"d":1},{"x":36,"y":34,"d":8},{"x":37,"y":34,"d":8},{"x":38,"y":34,"d":12},{"x":39,"y":34,"d":12},{"x":40,"y":34,"d":9},{"x":41,"y":34,"d":12},{"x":42,"y":34,"d":14},{"x":43,"y":34,"d":19},{"x":57,"y":34,"d":19},{"x":58,"y":34,"d":17},{"x":59,"y":34,"d":14},{"x":60,"y":34,"d":12},{"x":61,"y":34,"d":9},{"x":63,"y":34,"d":14},{"x":64,"y":34,"d":12},{"x":65,"y":34,"d":14},
{"x":12,"y":33,"d":19},{"x":15,"y":33,"d":14},{"x":16,"y":33,"d":14},{"x":17,"y":33,"d":19},{"x":18,"y":33,"d":14},{"x":19,"y":33,"d":12},{"x":20,"y":33,"d":12},{"x":21,"y":33,"d":9},{"x":22,"y":33,"d":12},{"x":23,"y":33,"d":9},{"x":24,"y":33,"d":14},{"x":25,"y":33,"d":14},{"x":26,"y":33,"d":9},{"x":27,"y":33,"d":9},{"x":28,"y":33,"d":9},{"x":29,"y":33,"d":7},{"x":30,"y":33,"d":5},{"x":31,"y":33,"d":8},{"x":32,"y":33,"d":1},{"x":33,"y":33,"d":1},{"x":34,"y":33,"d":1},{"x":35,"y":33,"d":8},{"x":36,"y":33,"d":8},{"x":37,"y":33,"d":5},{"x":38,"y":33,"d":9},{"x":39,"y":33,"d":9},{"x":40,"y":33,"d":5},{"x":41,"y":33,"d":9},{"x":42,"y":33,"d":12},{"x":43,"y":33,"d":14},{"x":44,"y":33,"d":17},{"x":45,"y":33,"d":19},{"x":56,"y":33,"d":17},{"x":57,"y":33,"d":14},{"x":58,"y":33,"d":12},{"x":59,"y":33,"d":12},{"x":60,"y":33,"d":8},{"x":61,"y":33,"d":5},{"x":62,"y":33,"d":9},{"x":63,"y":33,"d":12},{"x":64,"y":33,"d":9},{"x":65,"y":33,"d":9},
{"x":15,"y":32,"d":17},{"x":16,"y":32,"d":14},{"x":17,"y":32,"d":17},{"x":18,"y":32,"d":17},{"x":19,"y":32,"d":14},{"x":20,"y":32,"d":14},{"x":21,"y":32,"d":9},{"x":23,"y":32,"d":9},{"x":24,"y":32,"d":12},{"x":25,"y":32,"d":9},{"x":26,"y":32,"d":9},{"x":27,"y":32,"d":9},{"x":28,"y":32,"d":7},{"x":29,"y":32,"d":5},{"x":30,"y":32,"d":8},{"x":31,"y":32,"d":1},{"x":32,"y":32,"d":1},{"x":33,"y":32,"d":1},{"x":34,"y":32,"d":8},{"x":35,"y":32,"d":7},{"x":36,"y":32,"d":5},{"x":37,"y":32,"d":8},{"x":38,"y":32,"d":9},{"x":39,"y":32,"d":8},{"x":40,"y":32,"d":8},{"x":41,"y":32,"d":12},{"x":42,"y":32,"d":14},{"x":43,"y":32,"d":17},{"x":44,"y":32,"d":17},{"x":57,"y":32,"d":17},{"x":58,"y":32,"d":14},{"x":59,"y":32,"d":14},{"x":60,"y":32,"d":14},{"x":61,"y":32,"d":9},{"x":62,"y":32,"d":14},{"x":63,"y":32,"d":14},{"x":64,"y":32,"d":12},{"x":65,"y":32,"d":12},
{"x":19,"y":31,"d":17},{"x":20,"y":31,"d":17},{"x":21,"y":31,"d":12},{"x":22,"y":31,"d":14},{"x":23,"y":31,"d":9},{"x":24,"y":31,"d":14},{"x":25,"y":31,"d":9},{"x":26,"y":31,"d":9},{"x":27,"y":31,"d":7},{"x":28,"y":31,"d":5},{"x":29,"y":31,"d":8},{"x":30,"y":31,"d":1},{"x":31,"y":31,"d":1},{"x":32,"y":31,"d":1},{"x":33,"y":31,"d":8},{"x":34,"y":31,"d":5},{"x":35,"y":31,"d":7},{"x":36,"y":31,"d":9},{"x":37,"y":31,"d":9},{"x":38,"y":31,"d":14},{"x":40,"y":31,"d":12},{"x":41,"y":31,"d":14},{"x":42,"y":31,"d":19},{"x":58,"y":31,"d":19},{"x":59,"y":31,"d":17},{"x":60,"y":31,"d":14},{"x":61,"y":31,"d":12},{"x":62,"y":31,"d":17},{"x":63,"y":31,"d":14},{"x":64,"y":31,"d":12},{"x":65,"y":31,"d":12},
{"x":15,"y":30,"d":17},{"x":16,"y":30,"d":17},{"x":18,"y":30,"d":19},{"x":19,"y":30,"d":17},{"x":20,"y":30,"d":12},{"x":21,"y":30,"d":12},{"x":22,"y":30,"d":12},{"x":23,"y":30,"d":9},{"x":24,"y":30,"d":14},{"x":25,"y":30,"d":9},{"x":26,"y":30,"d":7},{"x":27,"y":30,"d":5},{"x":28,"y":30,"d":8},{"x":29,"y":30,"d":1},{"x":30,"y":30,"d":1},{"x":31,"y":30,"d":1},{"x":32,"y":30,"d":8},{"x":33,"y":30,"d":5},{"x":34,"y":30,"d":7},{"x":35,"y":30,"d":9},{"x":36,"y":30,"d":12},{"x":37,"y":30,"d":9},{"x":39,"y":30,"d":14},{"x":40,"y":30,"d":9},{"x":41,"y":30,"d":12},{"x":42,"y":30,"d":14},{"x":43,"y":30,"d":17},{"x":44,"y":30,"d":19},{"x":57,"y":30,"d":19},{"x":58,"y":30,"d":17},{"x":59,"y":30,"d":14},{"x":60,"y":30,"d":9},{"x":61,"y":30,"d":9},{"x":62,"y":30,"d":9},{"x":63,"y":30,"d":12},{"x":64,"y":30,"d":8},{"x":65,"y":30,"d":8},
{"x":11,"y":29,"d":19},{"x":12,"y":29,"d":14},{"x":13,"y":29,"d":14},{"x":14,"y":29,"d":19},{"x":15,"y":29,"d":14},{"x":16,"y":29,"d":14},{"x":17,"y":29,"d":12},{"x":18,"y":29,"d":14},{"x":19,"y":29,"d":14},{"x":20,"y":29,"d":12},{"x":21,"y":29,"d":9},{"x":22,"y":29,"d":9},{"x":23,"y":29,"d":4},{"x":24,"y":29,"d":9},{"x":25,"y":29,"d":7},{"x":26,"y":29,"d":5},{"x":27,"y":29,"d":8},{"x":28,"y":29,"d":1},{"x":29,"y":29,"d":1},{"x":30,"y":29,"d":1},{"x":31,"y":29,"d":8},{"x":32,"y":29,"d":5},{"x":33,"y":29,"d":7},{"x":34,"y":29,"d":9},{"x":35,"y":29,"d":12},{"x":36,"y":29,"d":12},{"x":37,"y":29,"d":12},{"x":38,"y":29,"d":14},{"x":39,"y":29,"d":9},{"x":40,"y":29,"d":9},{"x":41,"y":29,"d":12},{"x":42,"y":29,"d":14},{"x":43,"y":29,"d":17},{"x":44,"y":29,"d":17},{"x":57,"y":29,"d":17},{"x":59,"y":29,"d":14},{"x":60,"y":29,"d":12},{"x":62,"y":29,"d":12},{"x":63,"y":29,"d":9},{"x":64,"y":29,"d":5},{"x":65,"y":29,"d":9},
{"x":15,"y":28,"d":19},{"x":16,"y":28,"d":17},{"x":17,"y":28,"d":19},{"x":19,"y":28,"d":17},{"x":20,"y":28,"d":14},{"x":21,"y":28,"d":9},{"x":22,"y":28,"d":12},{"x":23,"y":28,"d":8},{"x":24,"y":28,"d":9},{"x":25,"y":28,"d":4},{"x":26,"y":28,"d":8},{"x":27,"y":28,"d":1},{"x":28,"y":28,"d":1},{"x":29,"y":28,"d":1},{"x":30,"y":28,"d":8},{"x":31,"y":28,"d":5},{"x":32,"y":28,"d":7},{"x":33,"y":28,"d":9},{"x":34,"y":28,"d":9},{"x":35,"y":28,"d":9},{"x":36,"y":28,"d":12},{"x":37,"y":28,"d":14},{"x":38,"y":28,"d":17},{"x":39,"y":28,"d":12},{"x":40,"y":28,"d":12},{"x":41,"y":28,"d":14},{"x":42,"y":28,"d":17},{"x":59,"y":28,"d":17},{"x":61,"y":28,"d":14},{"x":62,"y":28,"d":17},{"x":64,"y":28,"d":14},{"x":65,"y":28,"d":14},
{"x":16,"y":27,"d":19},{"x":19,"y":27,"d":19},{"x":20,"y":27,"d":17},{"x":21,"y":27,"d":14},{"x":22,"y":27,"d":14},{"x":23,"y":27,"d":9},{"x":24,"y":27,"d":9},{"x":25,"y":27,"d":5},{"x":26,"y":27,"d":1},{"x":27,"y":27,"d":1},{"x":28,"y":27,"d":1},{"x":29,"y":27,"d":8},{"x":30,"y":27,"d":5},{"x":31,"y":27,"d":7},{"x":32,"y":27,"d":9},{"x":33,"y":27,"d":9},{"x":34,"y":27,"d":9},{"x":35,"y":27,"d":14},{"x":36,"y":27,"d":14},{"x":37,"y":27,"d":14},{"x":38,"y":27,"d":17},{"x":40,"y":27,"d":14},{"x":41,"y":27,"d":17},{"x":59,"y":27,"d":17},{"x":60,"y":27,"d":17},{"x":61,"y":27,"d":14},{"x":64,"y":27,"d":9},{"x":65,"y":27,"d":9},
{"x":12,"y":26,"d":14},{"x":13,"y":26,"d":17},{"x":15,"y":26,"d":14},{"x":17,"y":26,"d":19},{"x":18,"y":26,"d":19},{"x":19,"y":26,"d":17},{"x":20,"y":26,"d":14},{"x":21,"y":26,"d":12},{"x":22,"y":26,"d":9},{"x":23,"y":26,"d":5},{"x":24,"y":26,"d":8},{"x":25,"y":26,"d":1},{"x":26,"y":26,"d":1},{"x":27,"y":26,"d":1},{"x":28,"y":26,"d":8},{"x":29,"y":26,"d":5},{"x":30,"y":26,"d":7},{"x":31,"y":26,"d":9},{"x":32,"y":26,"d":9},{"x":33,"y":26,"d":9},{"x":34,"y":26,"d":12},{"x":35,"y":26,"d":17},{"x":36,"y":26,"d":17},{"x":37,"y":26,"d":17},{"x":38,"y":26,"d":19},{"x":39,"y":26,"d":17},{"x":40,"y":26,"d":14},{"x":42,"y":26,"d":17},{"x":57,"y":26,"d":19},{"x":58,"y":26,"d":19},{"x":60,"y":26,"d":12},{"x":61,"y":26,"d":9},{"x":62,"y":26,"d":12},{"x":63,"y":26,"d":12},{"x":64,"y":26,"d":8},{"x":65,"y":26,"d":9},
{"x":15,"y":25,"d":19},{"x":16,"y":25,"d":14},{"x":17,"y":25,"d":19},{"x":19,"y":25,"d":17},{"x":21,"y":25,"d":12},{"x":22,"y":25,"d":9},{"x":23,"y":25,"d":7},{"x":24,"y":25,"d":1},{"x":25,"y":25,"d":1},{"x":26,"y":25,"d":1},{"x":27,"y":25,"d":5},{"x":28,"y":25,"d":4},{"x":29,"y":25,"d":7},{"x":30,"y":25,"d":9},{"x":31,"y":25,"d":9},{"x":32,"y":25,"d":12},{"x":33,"y":25,"d":14},{"x":34,"y":25,"d":14},{"x":35,"y":25,"d":14},{"x":36,"y":25,"d":17},{"x":37,"y":25,"d":17},{"x":38,"y":25,"d":19},{"x":39,"y":25,"d":17},{"x":40,"y":25,"d":14},{"x":41,"y":25,"d":17},{"x":42,"y":25,"d":19},{"x":59,"y":25,"d":17},{"x":60,"y":25,"d":17},{"x":61,"y":25,"d":14},{"x":62,"y":25,"d":17},{"x":64,"y":25,"d":12},{"x":65,"y":25,"d":14},
{"x":12,"y":24,"d":19},{"x":13,"y":24,"d":17},{"x":15,"y":24,"d":17},{"x":17,"y":24,"d":14},{"x":18,"y":24,"d":19},{"x":19,"y":24,"d":17},{"x":20,"y":24,"d":14},{"x":21,"y":24,"d":12},{"x":22,"y":24,"d":8},{"x":23,"y":24,"d":1},{"x":24,"y":24,"d":1},{"x":25,"y":24,"d":1},{"x":26,"y":24,"d":8},{"x":27,"y":24,"d":9},{"x":28,"y":24,"d":9},{"x":29,"y":24,"d":9},{"x":30,"y":24,"d":14},{"x":31,"y":24,"d":12},{"x":32,"y":24,"d":12},{"x":33,"y":24,"d":14},{"x":34,"y":24,"d":17},{"x":35,"y":24,"d":17},{"x":36,"y":24,"d":17},{"x":37,"y":24,"d":19},{"x":38,"y":24,"d":19},{"x":39,"y":24,"d":17},{"x":41,"y":24,"d":17},{"x":42,"y":24,"d":17},{"x":59,"y":24,"d":17},{"x":60,"y":24,"d":17},{"x":61,"y":24,"d":17},{"x":62,"y":24,"d":17},{"x":63,"y":24,"d":17},{"x":64,"y":24,"d":14},{"x":65,"y":24,"d":14},
{"x":11,"y":23,"d":19},{"x":12,"y":23,"d":14},{"x":13,"y":23,"d":14},{"x":14,"y":23,"d":17},{"x":15,"y":23,"d":14},{"x":16,"y":23,"d":14},{"x":17,"y":23,"d":14},{"x":18,"y":23,"d":14},{"x":19,"y":23,"d":14},{"x":20,"y":23,"d":9},{"x":21,"y":23,"d":8},{"x":22,"y":23,"d":1},{"x":23,"y":23,"d":1},{"x":24,"y":23,"d":1},{"x":25,"y":23,"d":7},{"x":26,"y":23,"d":5},{"x":27,"y":23,"d":9},{"x":28,"y":23,"d":8},{"x":29,"y":23,"d":4},{"x":30,"y":23,"d":9},{"x":31,"y":23,"d":9},{"x":32,"y":23,"d":9},{"x":33,"y":23,"d":9},{"x":34,"y":23,"d":12},{"x":35,"y":23,"d":14},{"x":36,"y":23,"d":14},{"x":37,"y":23,"d":14},{"x":38,"y":23,"d":17},{"x":39,"y":23,"d":12},{"x":40,"y":23,"d":12},{"x":41,"y":23,"d":14},{"x":43,"y":23,"d":19},{"x":44,"y":23,"d":17},{"x":57,"y":23,"d":17},{"x":58,"y":23,"d":17},{"x":59,"y":23,"d":14},{"x":60,"y":23,"d":14},{"x":61,"y":23,"d":12},{"x":62,"y":23,"d":14},{"x":63,"y":23,"d":14},{"x":64,"y":23,"d":8},{"x":65,"y":23,"d":9},
{"x":8,"y":22,"d":19},{"x":9,"y":22,"d":19},{"x":10,"y":22,"d":19},{"x":11,"y":22,"d":17},{"x":12,"y":22,"d":14},{"x":13,"y":22,"d":14},{"x":15,"y":22,"d":9},{"x":16,"y":22,"d":9},{"x":17,"y":22,"d":12},{"x":18,"y":22,"d":12},{"x":19,"y":22,"d":9},{"x":20,"y":22,"d":8},{"x":21,"y":22,"d":1},{"x":22,"y":22,"d":1},{"x":23,"y":22,"d":1},{"x":24,"y":22,"d":8},{"x":25,"y":22,"d":9},{"x":26,"y":22,"d":9},{"x":27,"y":22,"d":14},{"x":28,"y":22,"d":12},{"x":29,"y":22,"d":9},{"x":30,"y":22,"d":14},{"x":31,"y":22,"d":14},{"x":33,"y":22,"d":12},{"x":34,"y":22,"d":17},{"x":35,"y":22,"d":17},{"x":36,"y":22,"d":17},{"x":37,"y":22,"d":17},{"x":38,"y":22,"d":17},{"x":39,"y":22,"d":14},{"x":40,"y":22,"d":12},{"x":41,"y":22,"d":14},{"x":42,"y":22,"d":17},{"x":43,"y":22,"d":19},{"x":44,"y":22,"d":17},{"x":57,"y":22,"d":14},{"x":58,"y":22,"d":17},{"x":59,"y":22,"d":14},{"x":60,"y":22,"d":14},{"x":61,"y":22,"d":14},{"x":63,"y":22,"d":14},{"x":64,"y":22,"d":8},{"x":65,"y":22,"d":14},
{"x":9,"y":21,"d":19},{"x":10,"y":21,"d":19},{"x":11,"y":21,"d":17},{"x":12,"y":21,"d":14},{"x":13,"y":21,"d":14},{"x":14,"y":21,"d":14},{"x":15,"y":21,"d":9},{"x":16,"y":21,"d":9},{"x":17,"y":21,"d":9},{"x":18,"y":21,"d":9},{"x":19,"y":21,"d":8},{"x":20,"y":21,"d":1},{"x":21,"y":21,"d":1},{"x":22,"y":21,"d":1},{"x":23,"y":21,"d":8},{"x":24,"y":21,"d":12},{"x":25,"y":21,"d":14},{"x":26,"y":21,"d":12},{"x":27,"y":21,"d":14},{"x":28,"y":21,"d":12},{"x":29,"y":21,"d":9},{"x":30,"y":21,"d":12},{"x":31,"y":21,"d":12},{"x":32,"y":21,"d":9},{"x":33,"y":21,"d":9},{"x":34,"y":21,"d":14},{"x":35,"y":21,"d":14},{"x":36,"y":21,"d":14},{"x":37,"y":21,"d":12},{"x":38,"y":21,"d":14},{"x":41,"y":21,"d":9},{"x":42,"y":21,"d":9},{"x":43,"y":21,"d":14},{"x":44,"y":21,"d":14},{"x":45,"y":21,"d":17},{"x":46,"y":21,"d":19},{"x":55,"y":21,"d":19},{"x":56,"y":21,"d":17},{"x":57,"y":21,"d":14},{"x":58,"y":21,"d":14},{"x":59,"y":21,"d":9},{"x":60,"y":21,"d":9},{"x":61,"y":21,"d":9},{"x":62,"y":21,"d":9},{"x":64,"y":21,"d":9},{"x":65,"y":21,"d":12},
{"x":7,"y":20,"d":19},{"x":8,"y":20,"d":19},{"x":9,"y":20,"d":17},{"x":10,"y":20,"d":14},{"x":11,"y":20,"d":14},{"x":12,"y":20,"d":9},{"x":13,"y":20,"d":9},{"x":14,"y":20,"d":9},{"x":16,"y":20,"d":7},{"x":17,"y":20,"d":5},{"x":18,"y":20,"d":8},{"x":19,"y":20,"d":1},{"x":20,"y":20,"d":1},{"x":21,"y":20,"d":1},{"x":22,"y":20,"d":8},{"x":23,"y":20,"d":9},{"x":24,"y":20,"d":14},{"x":26,"y":20,"d":12},{"x":27,"y":20,"d":17},{"x":28,"y":20,"d":14},{"x":29,"y":20,"d":12},{"x":30,"y":20,"d":14},{"x":31,"y":20,"d":17},{"x":32,"y":20,"d":14},{"x":33,"y":20,"d":12},{"x":34,"y":20,"d":17},{"x":35,"y":20,"d":19},{"x":36,"y":20,"d":17},{"x":37,"y":20,"d":14},{"x":38,"y":20,"d":17},{"x":39,"y":20,"d":14},{"x":40,"y":20,"d":12},{"x":41,"y":20,"d":12},{"x":42,"y":20,"d":9},{"x":43,"y":20,"d":14},{"x":44,"y":20,"d":14},{"x":45,"y":20,"d":17},{"x":46,"y":20,"d":17},{"x":55,"y":20,"d":17},{"x":56,"y":20,"d":17},{"x":57,"y":20,"d":14},{"x":58,"y":20,"d":14},{"x":59,"y":20,"d":9},{"x":60,"y":20,"d":12},{"x":61,"y":20,"d":12},{"x":62,"y":20,"d":9},{"x":63,"y":20,"d":9},{"x":64,"y":20,"d":9},
{"x":3,"y":19,"d":17},{"x":7,"y":19,"d":17},{"x":8,"y":19,"d":17},{"x":9,"y":19,"d":14},{"x":10,"y":19,"d":14},{"x":11,"y":19,"d":12},{"x":12,"y":19,"d":9},{"x":13,"y":19,"d":12},{"x":14,"y":19,"d":9},{"x":15,"y":19,"d":7},{"x":16,"y":19,"d":7},{"x":17,"y":19,"d":8},{"x":18,"y":19,"d":1},{"x":19,"y":19,"d":1},{"x":20,"y":19,"d":1},{"x":21,"y":19,"d":8},{"x":22,"y":19,"d":9},{"x":23,"y":19,"d":14},{"x":24,"y":19,"d":17},{"x":25,"y":19,"d":17},{"x":26,"y":19,"d":17},{"x":27,"y":19,"d":19},{"x":28,"y":19,"d":17},{"x":29,"y":19,"d":14},{"x":30,"y":19,"d":17},{"x":31,"y":19,"d":17},{"x":32,"y":19,"d":14},{"x":33,"y":19,"d":12},{"x":34,"y":19,"d":17},{"x":35,"y":19,"d":19},{"x":36,"y":19,"d":14},{"x":37,"y":19,"d":14},{"x":38,"y":19,"d":14},{"x":39,"y":19,"d":12},{"x":40,"y":19,"d":9},{"x":41,"y":19,"d":9},{"x":42,"y":19,"d":7},{"x":43,"y":19,"d":12},{"x":44,"y":19,"d":9},{"x":45,"y":19,"d":12},{"x":46,"y":19,"d":14},{"x":47,"y":19,"d":17},{"x":48,"y":19,"d":19},{"x":54,"y":19,"d":17},{"x":55,"y":19,"d":14},{"x":56,"y":19,"d":14},{"x":57,"y":19,"d":9},{"x":58,"y":19,"d":12},{"x":59,"y":19,"d":7},{"x":60,"y":19,"d":9},{"x":61,"y":19,"d":9},{"x":62,"y":19,"d":12},{"x":63,"y":19,"d":9},{"x":64,"y":19,"d":9},{"x":65,"y":19,"d":12},
{"x":3,"y":18,"d":17},{"x":6,"y":18,"d":19},{"x":7,"y":18,"d":17},{"x":8,"y":18,"d":14},{"x":9,"y":18,"d":14},{"x":10,"y":18,"d":12},{"x":11,"y":18,"d":9},{"x":12,"y":18,"d":9},{"x":13,"y":18,"d":9},{"x":14,"y":18,"d":7},{"x":15,"y":18,"d":5},{"x":16,"y":18,"d":8},{"x":17,"y":18,"d":1},{"x":18,"y":18,"d":1},{"x":19,"y":18,"d":1},{"x":20,"y":18,"d":8},{"x":21,"y":18,"d":9},{"x":22,"y":18,"d":12},{"x":23,"y":18,"d":14},{"x":24,"y":18,"d":19},{"x":26,"y":18,"d":17},{"x":29,"y":18,"d":14},{"x":30,"y":18,"d":19},{"x":32,"y":18,"d":17},{"x":33,"y":18,"d":17},{"x":36,"y":18,"d":19},{"x":37,"y":18,"d":19},{"x":38,"y":18,"d":17},{"x":39,"y":18,"d":14},{"x":40,"y":18,"d":12},{"x":42,"y":18,"d":9},{"x":43,"y":18,"d":12},{"x":44,"y":18,"d":9},{"x":45,"y":18,"d":14},{"x":46,"y":18,"d":14},{"x":48,"y":18,"d":14},{"x":49,"y":18,"d":17},{"x":53,"y":18,"d":19},{"x":55,"y":18,"d":14},{"x":56,"y":18,"d":14},{"x":57,"y":18,"d":9},{"x":58,"y":18,"d":14},{"x":59,"y":18,"d":9},{"x":60,"y":18,"d":14},{"x":61,"y":18,"d":14},{"x":62,"y":18,"d":14},{"x":63,"y":18,"d":12},{"x":64,"y":18,"d":12},{"x":65,"y":18,"d":14},
{"x":3,"y":17,"d":17},{"x":4,"y":17,"d":19},{"x":5,"y":17,"d":19},{"x":6,"y":17,"d":17},{"x":7,"y":17,"d":14},{"x":8,"y":17,"d":14},{"x":9,"y":17,"d":12},{"x":10,"y":17,"d":9},{"x":11,"y":17,"d":9},{"x":12,"y":17,"d":9},{"x":13,"y":17,"d":7},{"x":14,"y":17,"d":5},{"x":15,"y":17,"d":8},{"x":16,"y":17,"d":1},{"x":17,"y":17,"d":1},{"x":18,"y":17,"d":1},{"x":19,"y":17,"d":8},{"x":20,"y":17,"d":5},{"x":21,"y":17,"d":9},{"x":22,"y":17,"d":12},{"x":23,"y":17,"d":14},{"x":24,"y":17,"d":17},{"x":25,"y":17,"d":19},{"x":26,"y":17,"d":19},{"x":28,"y":17,"d":17},{"x":29,"y":17,"d":14},{"x":32,"y":17,"d":17},{"x":33,"y":17,"d":19},{"x":39,"y":17,"d":19},{"x":40,"y":17,"d":14},{"x":41,"y":17,"d":17},{"x":43,"y":17,"d":14},{"x":44,"y":17,"d":12},{"x":45,"y":17,"d":17},{"x":47,"y":17,"d":17},{"x":48,"y":17,"d":17},{"x":49,"y":17,"d":19},{"x":54,"y":17,"d":19},{"x":56,"y":17,"d":17},{"x":57,"y":17,"d":12},{"x":58,"y":17,"d":17},{"x":59,"y":17,"d":12},{"x":60,"y":17,"d":14},{"x":61,"y":17,"d":19},{"x":63,"y":17,"d":12},{"x":64,"y":17,"d":12},{"x":65,"y":17,"d":17},
{"x":3,"y":16,"d":17},{"x":4,"y":16,"d":19},{"x":5,"y":16,"d":17},{"x":6,"y":16,"d":14},{"x":7,"y":16,"d":14},{"x":8,"y":16,"d":12},{"x":9,"y":16,"d":9},{"x":10,"y":16,"d":9},{"x":11,"y":16,"d":9},{"x":12,"y":16,"d":7},{"x":13,"y":16,"d":5},{"x":14,"y":16,"d":8},{"x":15,"y":16,"d":1},{"x":16,"y":16,"d":1},{"x":17,"y":16,"d":1},{"x":18,"y":16,"d":8},{"x":19,"y":16,"d":7},{"x":20,"y":16,"d":7},{"x":21,"y":16,"d":9},{"x":22,"y":16,"d":9},{"x":23,"y":16,"d":14},{"x":25,"y":16,"d":17},{"x":27,"y":16,"d":17},{"x":28,"y":16,"d":17},{"x":29,"y":16,"d":14},{"x":30,"y":16,"d":17},{"x":32,"y":16,"d":17},{"x":33,"y":16,"d":17},{"x":37,"y":16,"d":19},{"x":38,"y":16,"d":19},{"x":39,"y":16,"d":17},{"x":40,"y":16,"d":14},{"x":41,"y":16,"d":14},{"x":43,"y":16,"d":14},{"x":44,"y":16,"d":12},{"x":45,"y":16,"d":17},{"x":47,"y":16,"d":17},{"x":48,"y":16,"d":19},{"x":54,"y":16,"d":19},{"x":56,"y":16,"d":14},{"x":57,"y":16,"d":12},{"x":58,"y":16,"d":14},{"x":59,"y":16,"d":9},{"x":60,"y":16,"d":9},{"x":61,"y":16,"d":14},{"x":62,"y":16,"d":9},{"x":63,"y":16,"d":9},{"x":65,"y":16,"d":14},
{"x":1,"y":15,"d":17},{"x":2,"y":15,"d":14},{"x":3,"y":15,"d":12},{"x":4,"y":15,"d":17},{"x":5,"y":15,"d":14},{"x":6,"y":15,"d":14},{"x":7,"y":15,"d":12},{"x":8,"y":15,"d":9},{"x":9,"y":15,"d":9},{"x":10,"y":15,"d":9},{"x":11,"y":15,"d":7},{"x":12,"y":15,"d":5},{"x":13,"y":15,"d":8},{"x":14,"y":15,"d":1},{"x":15,"y":15,"d":1},{"x":16,"y":15,"d":1},{"x":17,"y":15,"d":8},{"x":18,"y":15,"d":5},{"x":19,"y":15,"d":7},{"x":21,"y":15,"d":9},{"x":22,"y":15,"d":9},{"x":23,"y":15,"d":14},{"x":24,"y":15,"d":17},{"x":25,"y":15,"d":19},{"x":26,"y":15,"d":17},{"x":28,"y":15,"d":19},{"x":29,"y":15,"d":14},{"x":30,"y":15,"d":19},{"x":32,"y":15,"d":17},{"x":33,"y":15,"d":14},{"x":37,"y":15,"d":19},{"x":38,"y":15,"d":17},{"x":39,"y":15,"d":17},{"x":40,"y":15,"d":14},{"x":41,"y":15,"d":12},{"x":42,"y":15,"d":9},{"x":43,"y":15,"d":12},{"x":44,"y":15,"d":8},{"x":45,"y":15,"d":12},{"x":46,"y":15,"d":9},{"x":49,"y":15,"d":14},{"x":50,"y":15,"d":19},{"x":51,"y":15,"d":19},{"x":52,"y":15,"d":19},{"x":53,"y":15,"d":17},{"x":54,"y":15,"d":14},{"x":55,"y":15,"d":9},{"x":56,"y":15,"d":12},{"x":57,"y":15,"d":7},{"x":58,"y":15,"d":9},{"x":59,"y":15,"d":9},{"x":60,"y":15,"d":12},{"x":61,"y":15,"d":14},{"x":62,"y":15,"d":14},{"x":64,"y":15,"d":12},{"x":65,"y":15,"d":14},
{"x":1,"y":14,"d":17},{"x":2,"y":14,"d":17},{"x":3,"y":14,"d":12},{"x":4,"y":14,"d":14},{"x":5,"y":14,"d":17},{"x":6,"y":14,"d":12},{"x":7,"y":14,"d":9},{"x":8,"y":14,"d":9},{"x":9,"y":14,"d":9},{"x":10,"y":14,"d":7},{"x":11,"y":14,"d":5},{"x":12,"y":14,"d":8},{"x":13,"y":14,"d":1},{"x":14,"y":14,"d":1},{"x":15,"y":14,"d":1},{"x":16,"y":14,"d":8},{"x":17,"y":14,"d":5},{"x":18,"y":14,"d":7},{"x":19,"y":14,"d":9},{"x":20,"y":14,"d":9},{"x":21,"y":14,"d":14},{"x":23,"y":14,"d":17},{"x":29,"y":14,"d":19},{"x":40,"y":14,"d":17},{"x":41,"y":14,"d":14},{"x":43,"y":14,"d":14},{"x":44,"y":14,"d":9},{"x":45,"y":14,"d":12},{"x":46,"y":14,"d":9},{"x":47,"y":14,"d":14},{"x":50,"y":14,"d":17},{"x":51,"y":14,"d":17},{"x":52,"y":14,"d":17},{"x":53,"y":14,"d":17},{"x":54,"y":14,"d":14},{"x":55,"y":14,"d":9},{"x":56,"y":14,"d":14},{"x":57,"y":14,"d":9},{"x":58,"y":14,"d":14},{"x":59,"y":14,"d":12},{"x":60,"y":14,"d":14},{"x":61,"y":14,"d":19},{"x":62,"y":14,"d":17},{"x":63,"y":14,"d":14},{"x":65,"y":14,"d":17},
{"x":1,"y":13,"d":19},{"x":2,"y":13,"d":17},{"x":3,"y":13,"d":14},{"x":4,"y":13,"d":14},{"x":5,"y":13,"d":12},{"x":6,"y":13,"d":9},{"x":7,"y":13,"d":9},{"x":8,"y":13,"d":9},{"x":9,"y":13,"d":7},{"x":10,"y":13,"d":5},{"x":11,"y":13,"d":8},{"x":12,"y":13,"d":1},{"x":13,"y":13,"d":1},{"x":14,"y":13,"d":1},{"x":15,"y":13,"d":8},{"x":16,"y":13,"d":5},{"x":17,"y":13,"d":7},{"x":18,"y":13,"d":9},{"x":19,"y":13,"d":12},{"x":20,"y":13,"d":9},{"x":21,"y":13,"d":14},{"x":22,"y":13,"d":14},{"x":23,"y":13,"d":14},{"x":24,"y":13,"d":17},{"x":26,"y":13,"d":17},{"x":29,"y":13,"d":17},{"x":40,"y":13,"d":19},{"x":41,"y":13,"d":17},{"x":42,"y":13,"d":14},{"x":43,"y":13,"d":17},{"x":44,"y":13,"d":12},{"x":45,"y":13,"d":17},{"x":46,"y":13,"d":14},{"x":48,"y":13,"d":14},{"x":50,"y":13,"d":17},{"x":53,"y":13,"d":19},{"x":54,"y":13,"d":17},{"x":55,"y":13,"d":14},{"x":56,"y":13,"d":17},{"x":57,"y":13,"d":12},{"x":58,"y":13,"d":17},{"x":59,"y":13,"d":12},{"x":60,"y":13,"d":17},{"x":61,"y":13,"d":19},{"x":62,"y":13,"d":17},{"x":63,"y":13,"d":14},{"x":65,"y":13,"d":17},
{"x":1,"y":12,"d":17},{"x":2,"y":12,"d":14},{"x":3,"y":12,"d":9},{"x":4,"y":12,"d":14},{"x":5,"y":12,"d":9},{"x":6,"y":12,"d":9},{"x":7,"y":12,"d":9},{"x":8,"y":12,"d":7},{"x":9,"y":12,"d":5},{"x":10,"y":12,"d":8},{"x":11,"y":12,"d":1},{"x":12,"y":12,"d":1},{"x":13,"y":12,"d":1},{"x":14,"y":12,"d":8},{"x":15,"y":12,"d":5},{"x":16,"y":12,"d":7},{"x":17,"y":12,"d":9},{"x":18,"y":12,"d":9},{"x":19,"y":12,"d":9},{"x":20,"y":12,"d":9},{"x":21,"y":12,"d":14},{"x":22,"y":12,"d":14},{"x":23,"y":12,"d":14},{"x":24,"y":12,"d":19},{"x":26,"y":12,"d":14},{"x":29,"y":12,"d":14},{"x":33,"y":12,"d":19},{"x":40,"y":12,"d":17},{"x":41,"y":12,"d":17},{"x":42,"y":12,"d":14},{"x":43,"y":12,"d":14},{"x":44,"y":12,"d":12},{"x":46,"y":12,"d":14},{"x":49,"y":12,"d":14},{"x":50,"y":12,"d":17},{"x":51,"y":12,"d":19},{"x":53,"y":12,"d":17},{"x":54,"y":12,"d":17},{"x":55,"y":12,"d":12},{"x":56,"y":12,"d":14},{"x":57,"y":12,"d":9},{"x":58,"y":12,"d":12},{"x":59,"y":12,"d":9},{"x":60,"y":12,"d":14},{"x":61,"y":12,"d":17},{"x":62,"y":12,"d":14},{"x":63,"y":12,"d":14},{"x":64,"y":12,"d":14},
{"x":1,"y":11,"d":14},{"x":2,"y":11,"d":12},{"x":3,"y":11,"d":7},{"x":4,"y":11,"d":9},{"x":5,"y":11,"d":9},{"x":6,"y":11,"d":9},{"x":7,"y":11,"d":7},{"x":8,"y":11,"d":5},{"x":9,"y":11,"d":8},{"x":10,"y":11,"d":1},{"x":11,"y":11,"d":1},{"x":12,"y":11,"d":1},{"x":13,"y":11,"d":8},{"x":14,"y":11,"d":5},{"x":15,"y":11,"d":7},{"x":16,"y":11,"d":9},{"x":17,"y":11,"d":9},{"x":18,"y":11,"d":9},{"x":19,"y":11,"d":12},{"x":20,"y":11,"d":14},{"x":21,"y":11,"d":17},{"x":22,"y":11,"d":17},{"x":23,"y":11,"d":17},{"x":29,"y":11,"d":19},{"x":40,"y":11,"d":19},{"x":41,"y":11,"d":17},{"x":42,"y":11,"d":12},{"x":43,"y":11,"d":12},{"x":45,"y":11,"d":9},{"x":47,"y":11,"d":9},{"x":48,"y":11,"d":12},{"x":49,"y":11,"d":12},{"x":50,"y":11,"d":14},{"x":53,"y":11,"d":14},{"x":54,"y":11,"d":12},{"x":55,"y":11,"d":8},{"x":56,"y":11,"d":9},{"x":57,"y":11,"d":8},{"x":58,"y":11,"d":12},{"x":59,"y":11,"d":12},{"x":60,"y":11,"d":14},{"x":61,"y":11,"d":17},{"x":62,"y":11,"d":17},{"x":63,"y":11,"d":14},{"x":64,"y":11,"d":14},{"x":65,"y":11,"d":17},
{"x":2,"y":10,"d":14},{"x":3,"y":10,"d":9},{"x":4,"y":10,"d":9},{"x":5,"y":10,"d":9},{"x":6,"y":10,"d":7},{"x":7,"y":10,"d":5},{"x":8,"y":10,"d":8},{"x":9,"y":10,"d":1},{"x":10,"y":10,"d":1},{"x":11,"y":10,"d":1},{"x":12,"y":10,"d":8},{"x":13,"y":10,"d":5},{"x":14,"y":10,"d":7},{"x":15,"y":10,"d":9},{"x":16,"y":10,"d":9},{"x":17,"y":10,"d":9},{"x":18,"y":10,"d":12},{"x":19,"y":10,"d":14},{"x":20,"y":10,"d":14},{"x":21,"y":10,"d":19},{"x":22,"y":10,"d":19},{"x":42,"y":10,"d":17},{"x":43,"y":10,"d":19},{"x":44,"y":10,"d":12},{"x":45,"y":10,"d":14},{"x":46,"y":10,"d":12},{"x":47,"y":10,"d":14},{"x":48,"y":10,"d":14},{"x":49,"y":10,"d":14},{"x":52,"y":10,"d":17},{"x":54,"y":10,"d":17},{"x":55,"y":10,"d":9},{"x":56,"y":10,"d":14},{"x":57,"y":10,"d":12},{"x":58,"y":10,"d":17},{"x":59,"y":10,"d":14},{"x":60,"y":10,"d":19},{"x":62,"y":10,"d":19},{"x":64,"y":10,"d":19},
{"x":1,"y":9,"d":14},{"x":2,"y":9,"d":14},{"x":3,"y":9,"d":9},{"x":4,"y":9,"d":9},{"x":5,"y":9,"d":7},{"x":6,"y":9,"d":5},{"x":7,"y":9,"d":8},{"x":8,"y":9,"d":1},{"x":9,"y":9,"d":1},{"x":10,"y":9,"d":1},{"x":11,"y":9,"d":8},{"x":12,"y":9,"d":5},{"x":13,"y":9,"d":7},{"x":14,"y":9,"d":9},{"x":15,"y":9,"d":9},{"x":16,"y":9,"d":9},{"x":17,"y":9,"d":12},{"x":18,"y":9,"d":14},{"x":19,"y":9,"d":14},{"x":20,"y":9,"d":17},{"x":21,"y":9,"d":19},{"x":22,"y":9,"d":19},{"x":42,"y":9,"d":19},{"x":44,"y":9,"d":14},{"x":45,"y":9,"d":19},{"x":46,"y":9,"d":14},{"x":51,"y":9,"d":17},{"x":53,"y":9,"d":17},{"x":54,"y":9,"d":17},{"x":55,"y":9,"d":12},{"x":56,"y":9,"d":17},{"x":57,"y":9,"d":12},{"x":58,"y":9,"d":17},{"x":59,"y":9,"d":14},{"x":60,"y":9,"d":19},{"x":62,"y":9,"d":19},
{"x":1,"y":8,"d":12},{"x":2,"y":8,"d":9},{"x":3,"y":8,"d":5},{"x":4,"y":8,"d":7},{"x":5,"y":8,"d":5},{"x":6,"y":8,"d":8},{"x":7,"y":8,"d":1},{"x":8,"y":8,"d":1},{"x":9,"y":8,"d":1},{"x":10,"y":8,"d":8},{"x":11,"y":8,"d":5},{"x":12,"y":8,"d":7},{"x":13,"y":8,"d":9},{"x":14,"y":8,"d":9},{"x":15,"y":8,"d":9},{"x":16,"y":8,"d":12},{"x":17,"y":8,"d":14},{"x":18,"y":8,"d":14},{"x":19,"y":8,"d":17},{"x":20,"y":8,"d":19},{"x":22,"y":8,"d":19},{"x":42,"y":8,"d":17},{"x":43,"y":8,"d":17},{"x":44,"y":8,"d":12},{"x":45,"y":8,"d":17},{"x":47,"y":8,"d":14},{"x":48,"y":8,"d":12},{"x":49,"y":8,"d":14},{"x":50,"y":8,"d":14},{"x":52,"y":8,"d":17},{"x":53,"y":8,"d":14},{"x":54,"y":8,"d":14},{"x":55,"y":8,"d":9},{"x":56,"y":8,"d":14},{"x":57,"y":8,"d":9},{"x":58,"y":8,"d":14},{"x":59,"y":8,"d":14},{"x":60,"y":8,"d":17},{"x":62,"y":8,"d":17},{"x":64,"y":8,"d":19},
{"x":1,"y":7,"d":12},{"x":2,"y":7,"d":9},{"x":3,"y":7,"d":5},{"x":4,"y":7,"d":5},{"x":5,"y":7,"d":8},{"x":6,"y":7,"d":1},{"x":7,"y":7,"d":1},{"x":8,"y":7,"d":1},{"x":9,"y":7,"d":8},{"x":10,"y":7,"d":5},{"x":11,"y":7,"d":7},{"x":12,"y":7,"d":9},{"x":13,"y":7,"d":9},{"x":14,"y":7,"d":9},{"x":15,"y":7,"d":12},{"x":16,"y":7,"d":14},{"x":17,"y":7,"d":14},{"x":18,"y":7,"d":17},{"x":19,"y":7,"d":17},{"x":20,"y":7,"d":19},{"x":42,"y":7,"d":19},{"x":43,"y":7,"d":17},{"x":44,"y":7,"d":12},{"x":45,"y":7,"d":14},{"x":46,"y":7,"d":9},{"x":47,"y":7,"d":9},{"x":50,"y":7,"d":12},{"x":51,"y":7,"d":12},{"x":52,"y":7,"d":14},{"x":53,"y":7,"d":12},{"x":54,"y":7,"d":12},{"x":56,"y":7,"d":12},{"x":57,"y":7,"d":12},{"x":58,"y":7,"d":17},{"x":59,"y":7,"d":17},
{"x":1,"y":6,"d":14},{"x":2,"y":6,"d":12},{"x":3,"y":6,"d":9},{"x":4,"y":6,"d":5},{"x":5,"y":6,"d":1},{"x":6,"y":6,"d":1},{"x":7,"y":6,"d":1},{"x":8,"y":6,"d":8},{"x":9,"y":6,"d":5},{"x":10,"y":6,"d":7},{"x":11,"y":6,"d":9},{"x":12,"y":6,"d":9},{"x":13,"y":6,"d":9},{"x":14,"y":6,"d":12},{"x":15,"y":6,"d":14},{"x":16,"y":6,"d":14},{"x":17,"y":6,"d":17},{"x":18,"y":6,"d":19},{"x":44,"y":6,"d":17},{"x":45,"y":6,"d":19},{"x":48,"y":6,"d":9},{"x":49,"y":6,"d":12},{"x":50,"y":6,"d":9},{"x":52,"y":6,"d":17},{"x":54,"y":6,"d":17},{"x":55,"y":6,"d":14},{"x":56,"y":6,"d":17},
{"x":1,"y":5,"d":14},{"x":2,"y":5,"d":9},{"x":3,"y":5,"d":8},{"x":4,"y":5,"d":1},{"x":5,"y":5,"d":1},{"x":6,"y":5,"d":1},{"x":7,"y":5,"d":8},{"x":8,"y":5,"d":5},{"x":9,"y":5,"d":7},{"x":10,"y":5,"d":9},{"x":11,"y":5,"d":9},{"x":12,"y":5,"d":9},{"x":13,"y":5,"d":12},{"x":14,"y":5,"d":14},{"x":15,"y":5,"d":14},{"x":16,"y":5,"d":17},{"x":17,"y":5,"d":19},{"x":44,"y":5,"d":17},{"x":48,"y":5,"d":14},{"x":49,"y":5,"d":14},{"x":50,"y":5,"d":14},{"x":53,"y":5,"d":17},{"x":54,"y":5,"d":17},{"x":55,"y":5,"d":14},{"x":56,"y":5,"d":17},{"x":57,"y":5,"d":14},
{"x":1,"y":4,"d":9},{"x":2,"y":4,"d":8},{"x":3,"y":4,"d":1},{"x":4,"y":4,"d":1},{"x":5,"y":4,"d":1},{"x":6,"y":4,"d":5},{"x":7,"y":4,"d":5},{"x":8,"y":4,"d":7},{"x":9,"y":4,"d":9},{"x":10,"y":4,"d":9},{"x":11,"y":4,"d":9},{"x":12,"y":4,"d":12},{"x":13,"y":4,"d":14},{"x":14,"y":4,"d":14},{"x":15,"y":4,"d":17},{"x":16,"y":4,"d":17},{"x":17,"y":4,"d":19},{"x":44,"y":4,"d":17},{"x":45,"y":4,"d":17},{"x":46,"y":4,"d":14},{"x":47,"y":4,"d":14},{"x":48,"y":4,"d":9},{"x":49,"y":4,"d":9},{"x":50,"y":4,"d":9},{"x":51,"y":4,"d":12},{"x":53,"y":4,"d":14},{"x":54,"y":4,"d":14},{"x":55,"y":4,"d":12},{"x":56,"y":4,"d":14},{"x":57,"y":4,"d":14},{"x":58,"y":4,"d":19},
{"x":1,"y":3,"d":8},{"x":2,"y":3,"d":1},{"x":3,"y":3,"d":1},{"x":4,"y":3,"d":1},{"x":5,"y":3,"d":8},{"x":6,"y":3,"d":9},{"x":7,"y":3,"d":5},{"x":8,"y":3,"d":5},{"x":9,"y":3,"d":9},{"x":10,"y":3,"d":9},{"x":11,"y":3,"d":7},{"x":12,"y":3,"d":9},{"x":13,"y":3,"d":14},{"x":14,"y":3,"d":12},{"x":15,"y":3,"d":12},{"x":16,"y":3,"d":17},{"x":17,"y":3,"d":17},{"x":18,"y":3,"d":17},{"x":19,"y":3,"d":17},{"x":43,"y":3,"d":17},{"x":44,"y":3,"d":12},{"x":45,"y":3,"d":14},{"x":46,"y":3,"d":12},{"x":47,"y":3,"d":12},{"x":48,"y":3,"d":9},{"x":49,"y":3,"d":9},{"x":50,"y":3,"d":9},{"x":52,"y":3,"d":14},{"x":53,"y":3,"d":12},{"x":54,"y":3,"d":12},{"x":56,"y":3,"d":12},{"x":57,"y":3,"d":9},{"x":58,"y":3,"d":12},{"x":59,"y":3,"d":17},
{"x":1,"y":2,"d":1},{"x":2,"y":2,"d":1},{"x":3,"y":2,"d":1},{"x":4,"y":2,"d":8},{"x":5,"y":2,"d":9},{"x":6,"y":2,"d":14},{"x":7,"y":2,"d":9},{"x":8,"y":2,"d":9},{"x":9,"y":2,"d":14},{"x":10,"y":2,"d":14},{"x":11,"y":2,"d":12},{"x":12,"y":2,"d":14},{"x":13,"y":2,"d":17},{"x":14,"y":2,"d":19},{"x":15,"y":2,"d":17},{"x":44,"y":2,"d":14},{"x":45,"y":2,"d":14},{"x":47,"y":2,"d":12},{"x":48,"y":2,"d":9},{"x":52,"y":2,"d":14},{"x":54,"y":2,"d":14},{"x":55,"y":2,"d":9},{"x":56,"y":2,"d":14},{"x":57,"y":2,"d":14},{"x":58,"y":2,"d":17},{"x":59,"y":2,"d":19},
{"x":1,"y":1,"d":1},{"x":2,"y":1,"d":1},{"x":3,"y":1,"d":8},{"x":4,"y":1,"d":9},{"x":5,"y":1,"d":14},{"x":6,"y":1,"d":14},{"x":7,"y":1,"d":12},{"x":8,"y":1,"d":12},{"x":9,"y":1,"d":14},{"x":11,"y":1,"d":14},{"x":12,"y":1,"d":17},{"x":13,"y":1,"d":19},{"x":14,"y":1,"d":17},{"x":15,"y":1,"d":17},{"x":46,"y":1,"d":14},{"x":47,"y":1,"d":12},{"x":52,"y":1,"d":14},{"x":53,"y":1,"d":12},{"x":54,"y":1,"d":14},{"x":55,"y":1,"d":9},{"x":56,"y":1,"d":9},{"x":57,"y":1,"d":9}
]},"mark":{"type":"rect"},"encoding":{"x":{"field":"x","type":"ordinal","scale":{"domain":[1,2,3,4,5,6,7,8,9,10,11,12,13,14,15,16,17,18,19,20,21,22,23,24,25,26,27,28,29,30,31,32,33,34,35,36,37,38,39,40,41,42,43,44,45,46,47,48,49,50,51,52,53,54,55,56,57,58,59,60,61,62,63,64,65],"paddingInner":0,"paddingOuter":0},"axis":{"orient":"bottom","offset":3,"tickSize":7,"values":[10,20,30,40,50,60],"labelAngle":0,"labelFontSize":58,"labelPadding":0,"title":"Residue index","titleFontSize":60,"titlePadding":1}},"y":{"field":"y","type":"ordinal","scale":{"domain":[65,64,63,62,61,60,59,58,57,56,55,54,53,52,51,50,49,48,47,46,45,44,43,42,41,40,39,38,37,36,35,34,33,32,31,30,29,28,27,26,25,24,23,22,21,20,19,18,17,16,15,14,13,12,11,10,9,8,7,6,5,4,3,2,1],"paddingInner":0,"paddingOuter":0},"axis":{"orient":"left","offset":3,"tickSize":7,"values":[10,20,30,40,50,60],"labelFontSize":58,"labelPadding":2,"title":"Residue index","titleFontSize":60,"titlePadding":2}},"color":{"field":"d","type":"quantitative","legend":null,"scale":{"type":"threshold","domain":[2.08,3.36,4.64,5.92,7.2,8.48,9.76,11.04,12.32,13.6,14.88,16.16,17.44,18.72,20],"range":["#ff0000","#ff2200","#ff4500","#ff6400","#ff8800","#ffa500","#a6bf82","#9db88a","#8fae90","#87a996","#7ca09e","#739aa5","#6893ac","#618fb1","#5585bb","#0000ff"]}}}},{"data":{"values":[{"x":10,"y":10}]},"mark":{"type":"rect","fillOpacity":0},"encoding":{"x":{"field":"x","type":"ordinal","axis":{"orient":"top","offset":3,"tickSize":7,"values":[10,20,30,40,50,60],"labels":false,"title":null}},"y":{"field":"y","type":"ordinal","axis":{"orient":"right","offset":3,"tickSize":7,"values":[10,20,30,40,50,60],"labels":false,"title":null}}}}],"resolve":{"axis":{"x":"independent","y":"independent"}}},{"width":7,"height":1690,"view":{"stroke":"#000000","strokeWidth":10},"data":{"values":[{"lo":0.8,"hi":2.08,"d":1},{"lo":2.08,"hi":3.36,"d":3},{"lo":3.36,"hi":4.64,"d":4},{"lo":4.64,"hi":5.92,"d":5},{"lo":5.92,"hi":7.2,"d":7},{"lo":7.2,"hi":8.48,"d":8},{"lo":8.48,"hi":9.76,"d":9},{"lo":9.76,"hi":11.04,"d":10},{"lo":11.04,"hi":12.32,"d":12},{"lo":12.32,"hi":13.6,"d":13},{"lo":13.6,"hi":14.88,"d":14},{"lo":14.88,"hi":16.16,"d":15},{"lo":16.16,"hi":17.44,"d":17},{"lo":17.44,"hi":18.72,"d":18},{"lo":18.72,"hi":20,"d":19},{"lo":20,"hi":21.22,"d":21}]},"mark":{"type":"rect"},"encoding":{"y":{"field":"lo","type":"quantitative","scale":{"domain":[0.8,21.22],"nice":false,"zero":false},"axis":{"orient":"right","domain":false,"tickSize":10,"values":[5,10,15,20],"labelFontSize":49,"labelPadding":3,"title":null}},"y2":{"field":"hi"},"color":{"field":"d","type":"quantitative","legend":null,"scale":{"type":"threshold","domain":[2.08,3.36,4.64,5.92,7.2,8.48,9.76,11.04,12.32,13.6,14.88,16.16,17.44,18.72,20],"range":["#ff0000","#ff2200","#ff4500","#ff6400","#ff8800","#ffa500","#a6bf82","#9db88a","#8fae90","#87a996","#7ca09e","#739aa5","#6893ac","#618fb1","#5585bb","#0000ff"]}}}}]}
